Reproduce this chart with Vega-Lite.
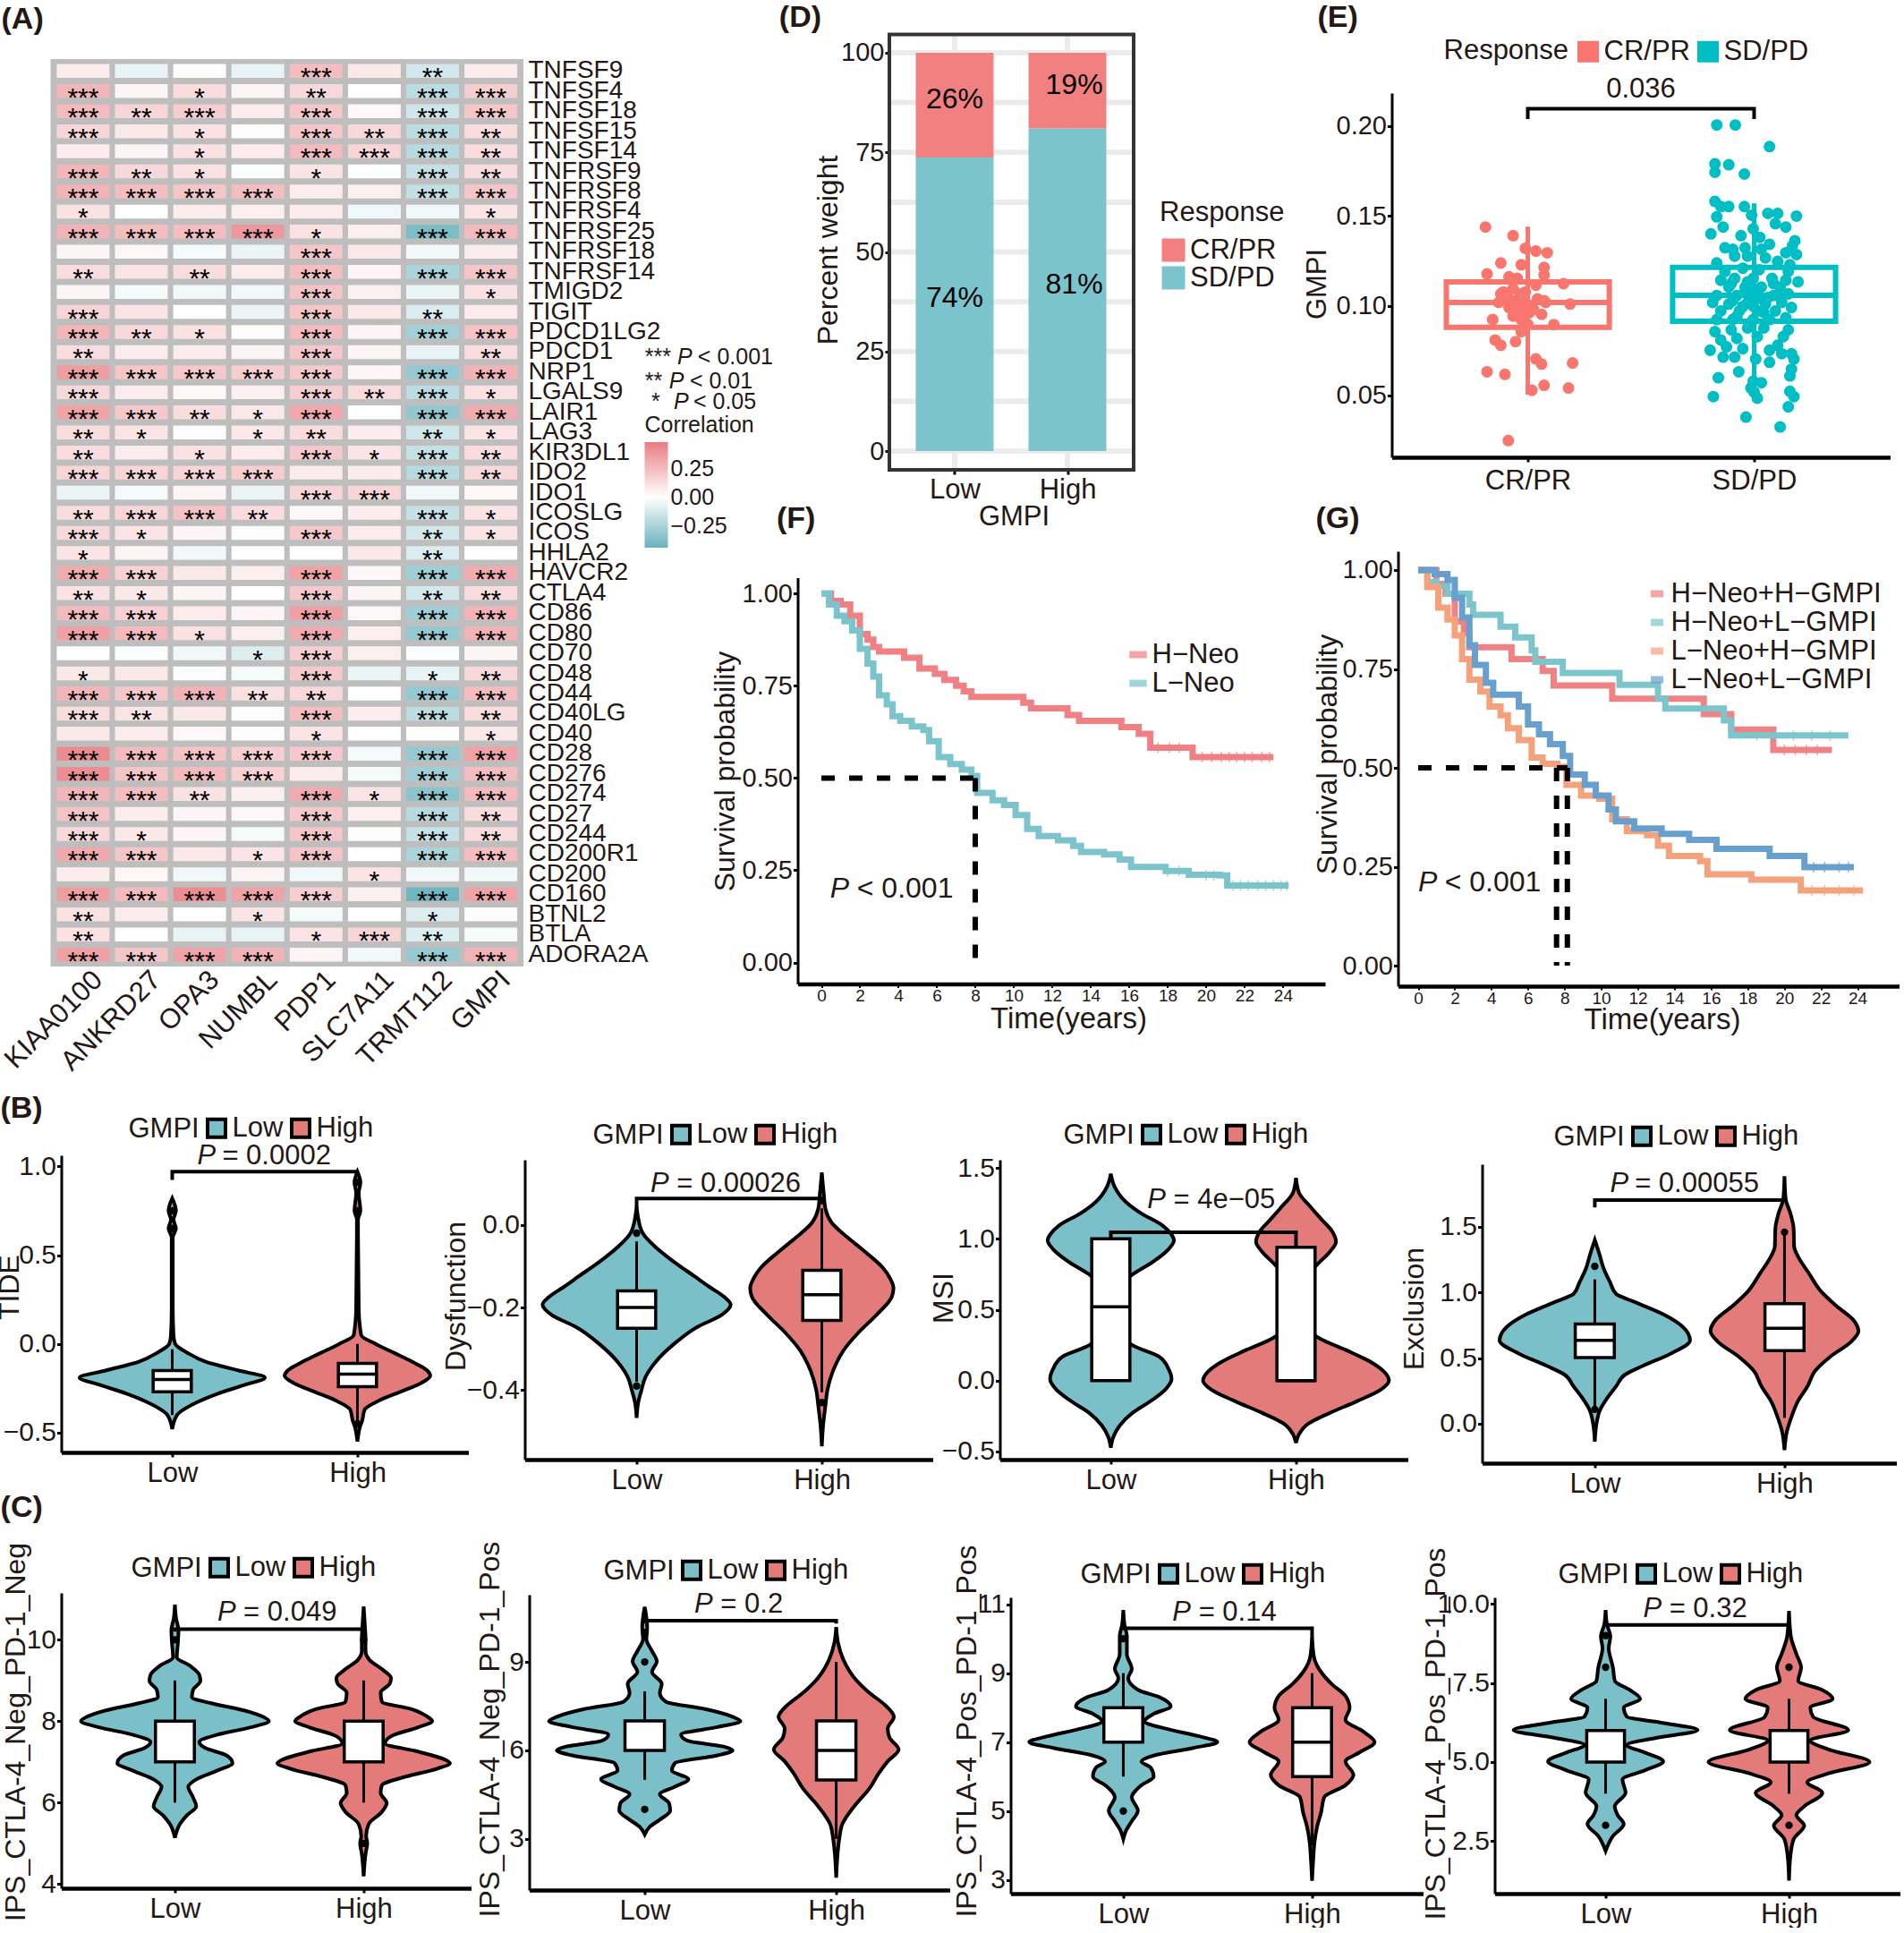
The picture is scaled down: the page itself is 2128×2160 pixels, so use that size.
{
"$schema":"https://vega.github.io/schema/vega-lite/v6.json",
"background":"white",
"padding":{"left":-5.5,"top":2,"right":0,"bottom":0},
"config":{
 "font":"Liberation Sans",
 "view":{"stroke":null},
 "axis":{"grid":false,"domainColor":"black","tickColor":"black","tickSize":5,"tickWidth":3,"labelColor":"#231815","titleColor":"#231815","labelFontSize":30,"titleFontSize":32,"titleFontWeight":"normal","labelPadding":1,"titleBaseline":"middle","labelOverlap":false,"labelFlush":false,"titleAnchor":null},
 "axisX":{"domainWidth":4.5,"labelPadding":3},
 "axisY":{"domainWidth":3},
 "legend":{"labelColor":"#231815","titleColor":"#231815","titleFontSize":31,"labelFontSize":31,"titleFontWeight":"normal","padding":0},
 "text":{"color":"#231815"}
},
"datasets":{
"a":[
{"g":"TNFSF9","c":"KIAA0100","r":0.07,"s":""},{"g":"TNFSF9","c":"ANKRD27","r":-0.07,"s":""},{"g":"TNFSF9","c":"OPA3","r":0.01,"s":""},{"g":"TNFSF9","c":"NUMBL","r":-0.07,"s":""},{"g":"TNFSF9","c":"PDP1","r":0.24,"s":"***"},{"g":"TNFSF9","c":"SLC7A11","r":0.08,"s":""},{"g":"TNFSF9","c":"TRMT112","r":-0.13,"s":"**"},{"g":"TNFSF9","c":"GMPI","r":0.07,"s":""},
{"g":"TNFSF4","c":"KIAA0100","r":0.27,"s":"***"},{"g":"TNFSF4","c":"ANKRD27","r":0.04,"s":""},{"g":"TNFSF4","c":"OPA3","r":0.13,"s":"*"},{"g":"TNFSF4","c":"NUMBL","r":0.04,"s":""},{"g":"TNFSF4","c":"PDP1","r":0.14,"s":"**"},{"g":"TNFSF4","c":"SLC7A11","r":0,"s":""},{"g":"TNFSF4","c":"TRMT112","r":-0.2,"s":"***"},{"g":"TNFSF4","c":"GMPI","r":0.18,"s":"***"},
{"g":"TNFSF18","c":"KIAA0100","r":0.25,"s":"***"},{"g":"TNFSF18","c":"ANKRD27","r":0.15,"s":"**"},{"g":"TNFSF18","c":"OPA3","r":0.18,"s":"***"},{"g":"TNFSF18","c":"NUMBL","r":0.07,"s":""},{"g":"TNFSF18","c":"PDP1","r":0.21,"s":"***"},{"g":"TNFSF18","c":"SLC7A11","r":0.03,"s":""},{"g":"TNFSF18","c":"TRMT112","r":-0.14,"s":"***"},{"g":"TNFSF18","c":"GMPI","r":0.21,"s":"***"},
{"g":"TNFSF15","c":"KIAA0100","r":0.15,"s":"***"},{"g":"TNFSF15","c":"ANKRD27","r":0.08,"s":""},{"g":"TNFSF15","c":"OPA3","r":0.11,"s":"*"},{"g":"TNFSF15","c":"NUMBL","r":0.01,"s":""},{"g":"TNFSF15","c":"PDP1","r":0.21,"s":"***"},{"g":"TNFSF15","c":"SLC7A11","r":0.14,"s":"**"},{"g":"TNFSF15","c":"TRMT112","r":-0.2,"s":"***"},{"g":"TNFSF15","c":"GMPI","r":0.13,"s":"**"},
{"g":"TNFSF14","c":"KIAA0100","r":0.07,"s":""},{"g":"TNFSF14","c":"ANKRD27","r":0.04,"s":""},{"g":"TNFSF14","c":"OPA3","r":0.11,"s":"*"},{"g":"TNFSF14","c":"NUMBL","r":0.07,"s":""},{"g":"TNFSF14","c":"PDP1","r":0.25,"s":"***"},{"g":"TNFSF14","c":"SLC7A11","r":0.15,"s":"***"},{"g":"TNFSF14","c":"TRMT112","r":-0.21,"s":"***"},{"g":"TNFSF14","c":"GMPI","r":0.13,"s":"**"},
{"g":"TNFRSF9","c":"KIAA0100","r":0.27,"s":"***"},{"g":"TNFRSF9","c":"ANKRD27","r":0.14,"s":"**"},{"g":"TNFRSF9","c":"OPA3","r":0.11,"s":"*"},{"g":"TNFRSF9","c":"NUMBL","r":-0.01,"s":""},{"g":"TNFRSF9","c":"PDP1","r":0.1,"s":"*"},{"g":"TNFRSF9","c":"SLC7A11","r":0,"s":""},{"g":"TNFRSF9","c":"TRMT112","r":-0.17,"s":"***"},{"g":"TNFRSF9","c":"GMPI","r":0.13,"s":"**"},
{"g":"TNFRSF8","c":"KIAA0100","r":0.28,"s":"***"},{"g":"TNFRSF8","c":"ANKRD27","r":0.24,"s":"***"},{"g":"TNFRSF8","c":"OPA3","r":0.21,"s":"***"},{"g":"TNFRSF8","c":"NUMBL","r":0.24,"s":"***"},{"g":"TNFRSF8","c":"PDP1","r":0.07,"s":""},{"g":"TNFRSF8","c":"SLC7A11","r":0.06,"s":""},{"g":"TNFRSF8","c":"TRMT112","r":-0.18,"s":"***"},{"g":"TNFRSF8","c":"GMPI","r":0.21,"s":"***"},
{"g":"TNFRSF4","c":"KIAA0100","r":0.11,"s":"*"},{"g":"TNFRSF4","c":"ANKRD27","r":0,"s":""},{"g":"TNFRSF4","c":"OPA3","r":0.07,"s":""},{"g":"TNFRSF4","c":"NUMBL","r":0.06,"s":""},{"g":"TNFRSF4","c":"PDP1","r":0.07,"s":""},{"g":"TNFRSF4","c":"SLC7A11","r":-0.04,"s":""},{"g":"TNFRSF4","c":"TRMT112","r":-0.04,"s":""},{"g":"TNFRSF4","c":"GMPI","r":0.1,"s":"*"},
{"g":"TNFRSF25","c":"KIAA0100","r":0.28,"s":"***"},{"g":"TNFRSF25","c":"ANKRD27","r":0.24,"s":"***"},{"g":"TNFRSF25","c":"OPA3","r":0.24,"s":"***"},{"g":"TNFRSF25","c":"NUMBL","r":0.38,"s":"***"},{"g":"TNFRSF25","c":"PDP1","r":0.11,"s":"*"},{"g":"TNFRSF25","c":"SLC7A11","r":0.06,"s":""},{"g":"TNFRSF25","c":"TRMT112","r":-0.38,"s":"***"},{"g":"TNFRSF25","c":"GMPI","r":0.25,"s":"***"},
{"g":"TNFRSF18","c":"KIAA0100","r":0.04,"s":""},{"g":"TNFRSF18","c":"ANKRD27","r":0.03,"s":""},{"g":"TNFRSF18","c":"OPA3","r":-0.03,"s":""},{"g":"TNFRSF18","c":"NUMBL","r":-0.06,"s":""},{"g":"TNFRSF18","c":"PDP1","r":0.21,"s":"***"},{"g":"TNFRSF18","c":"SLC7A11","r":0.08,"s":""},{"g":"TNFRSF18","c":"TRMT112","r":-0.04,"s":""},{"g":"TNFRSF18","c":"GMPI","r":0.07,"s":""},
{"g":"TNFRSF14","c":"KIAA0100","r":0.13,"s":"**"},{"g":"TNFRSF14","c":"ANKRD27","r":0.1,"s":""},{"g":"TNFRSF14","c":"OPA3","r":0.13,"s":"**"},{"g":"TNFRSF14","c":"NUMBL","r":0.07,"s":""},{"g":"TNFRSF14","c":"PDP1","r":0.24,"s":"***"},{"g":"TNFRSF14","c":"SLC7A11","r":0.04,"s":""},{"g":"TNFRSF14","c":"TRMT112","r":-0.25,"s":"***"},{"g":"TNFRSF14","c":"GMPI","r":0.21,"s":"***"},
{"g":"TMIGD2","c":"KIAA0100","r":0.04,"s":""},{"g":"TMIGD2","c":"ANKRD27","r":-0.03,"s":""},{"g":"TMIGD2","c":"OPA3","r":-0.04,"s":""},{"g":"TMIGD2","c":"NUMBL","r":-0.04,"s":""},{"g":"TMIGD2","c":"PDP1","r":0.22,"s":"***"},{"g":"TMIGD2","c":"SLC7A11","r":0.06,"s":""},{"g":"TMIGD2","c":"TRMT112","r":-0.06,"s":""},{"g":"TMIGD2","c":"GMPI","r":0.11,"s":"*"},
{"g":"TIGIT","c":"KIAA0100","r":0.15,"s":"***"},{"g":"TIGIT","c":"ANKRD27","r":0.1,"s":""},{"g":"TIGIT","c":"OPA3","r":0,"s":""},{"g":"TIGIT","c":"NUMBL","r":-0.06,"s":""},{"g":"TIGIT","c":"PDP1","r":0.21,"s":"***"},{"g":"TIGIT","c":"SLC7A11","r":0.08,"s":""},{"g":"TIGIT","c":"TRMT112","r":-0.11,"s":"**"},{"g":"TIGIT","c":"GMPI","r":0.07,"s":""},
{"g":"PDCD1LG2","c":"KIAA0100","r":0.27,"s":"***"},{"g":"PDCD1LG2","c":"ANKRD27","r":0.14,"s":"**"},{"g":"PDCD1LG2","c":"OPA3","r":0.11,"s":"*"},{"g":"PDCD1LG2","c":"NUMBL","r":0.01,"s":""},{"g":"PDCD1LG2","c":"PDP1","r":0.25,"s":"***"},{"g":"PDCD1LG2","c":"SLC7A11","r":0.04,"s":""},{"g":"PDCD1LG2","c":"TRMT112","r":-0.27,"s":"***"},{"g":"PDCD1LG2","c":"GMPI","r":0.22,"s":"***"},
{"g":"PDCD1","c":"KIAA0100","r":0.13,"s":"**"},{"g":"PDCD1","c":"ANKRD27","r":0.07,"s":""},{"g":"PDCD1","c":"OPA3","r":0.07,"s":""},{"g":"PDCD1","c":"NUMBL","r":0.04,"s":""},{"g":"PDCD1","c":"PDP1","r":0.21,"s":"***"},{"g":"PDCD1","c":"SLC7A11","r":0.04,"s":""},{"g":"PDCD1","c":"TRMT112","r":-0.07,"s":""},{"g":"PDCD1","c":"GMPI","r":0.13,"s":"**"},
{"g":"NRP1","c":"KIAA0100","r":0.36,"s":"***"},{"g":"NRP1","c":"ANKRD27","r":0.21,"s":"***"},{"g":"NRP1","c":"OPA3","r":0.2,"s":"***"},{"g":"NRP1","c":"NUMBL","r":0.18,"s":"***"},{"g":"NRP1","c":"PDP1","r":0.2,"s":"***"},{"g":"NRP1","c":"SLC7A11","r":0.03,"s":""},{"g":"NRP1","c":"TRMT112","r":-0.31,"s":"***"},{"g":"NRP1","c":"GMPI","r":0.28,"s":"***"},
{"g":"LGALS9","c":"KIAA0100","r":0.14,"s":"***"},{"g":"LGALS9","c":"ANKRD27","r":0.07,"s":""},{"g":"LGALS9","c":"OPA3","r":0.03,"s":""},{"g":"LGALS9","c":"NUMBL","r":0.06,"s":""},{"g":"LGALS9","c":"PDP1","r":0.18,"s":"***"},{"g":"LGALS9","c":"SLC7A11","r":0.13,"s":"**"},{"g":"LGALS9","c":"TRMT112","r":-0.2,"s":"***"},{"g":"LGALS9","c":"GMPI","r":0.11,"s":"*"},
{"g":"LAIR1","c":"KIAA0100","r":0.34,"s":"***"},{"g":"LAIR1","c":"ANKRD27","r":0.2,"s":"***"},{"g":"LAIR1","c":"OPA3","r":0.13,"s":"**"},{"g":"LAIR1","c":"NUMBL","r":0.08,"s":"*"},{"g":"LAIR1","c":"PDP1","r":0.32,"s":"***"},{"g":"LAIR1","c":"SLC7A11","r":0,"s":""},{"g":"LAIR1","c":"TRMT112","r":-0.32,"s":"***"},{"g":"LAIR1","c":"GMPI","r":0.31,"s":"***"},
{"g":"LAG3","c":"KIAA0100","r":0.13,"s":"**"},{"g":"LAG3","c":"ANKRD27","r":0.1,"s":"*"},{"g":"LAG3","c":"OPA3","r":0.01,"s":""},{"g":"LAG3","c":"NUMBL","r":0.08,"s":"*"},{"g":"LAG3","c":"PDP1","r":0.13,"s":"**"},{"g":"LAG3","c":"SLC7A11","r":0.07,"s":""},{"g":"LAG3","c":"TRMT112","r":-0.14,"s":"**"},{"g":"LAG3","c":"GMPI","r":0.1,"s":"*"},
{"g":"KIR3DL1","c":"KIAA0100","r":0.13,"s":"**"},{"g":"KIR3DL1","c":"ANKRD27","r":0.07,"s":""},{"g":"KIR3DL1","c":"OPA3","r":0.11,"s":"*"},{"g":"KIR3DL1","c":"NUMBL","r":0.07,"s":""},{"g":"KIR3DL1","c":"PDP1","r":0.2,"s":"***"},{"g":"KIR3DL1","c":"SLC7A11","r":0.1,"s":"*"},{"g":"KIR3DL1","c":"TRMT112","r":-0.17,"s":"***"},{"g":"KIR3DL1","c":"GMPI","r":0.13,"s":"**"},
{"g":"IDO2","c":"KIAA0100","r":0.15,"s":"***"},{"g":"IDO2","c":"ANKRD27","r":0.15,"s":"***"},{"g":"IDO2","c":"OPA3","r":0.15,"s":"***"},{"g":"IDO2","c":"NUMBL","r":0.18,"s":"***"},{"g":"IDO2","c":"PDP1","r":0.07,"s":""},{"g":"IDO2","c":"SLC7A11","r":0.07,"s":""},{"g":"IDO2","c":"TRMT112","r":-0.21,"s":"***"},{"g":"IDO2","c":"GMPI","r":0.14,"s":"**"},
{"g":"IDO1","c":"KIAA0100","r":-0.06,"s":""},{"g":"IDO1","c":"ANKRD27","r":-0.03,"s":""},{"g":"IDO1","c":"OPA3","r":0.04,"s":""},{"g":"IDO1","c":"NUMBL","r":-0.06,"s":""},{"g":"IDO1","c":"PDP1","r":0.15,"s":"***"},{"g":"IDO1","c":"SLC7A11","r":0.15,"s":"***"},{"g":"IDO1","c":"TRMT112","r":-0.04,"s":""},{"g":"IDO1","c":"GMPI","r":0.03,"s":""},
{"g":"ICOSLG","c":"KIAA0100","r":0.13,"s":"**"},{"g":"ICOSLG","c":"ANKRD27","r":0.15,"s":"***"},{"g":"ICOSLG","c":"OPA3","r":0.22,"s":"***"},{"g":"ICOSLG","c":"NUMBL","r":0.13,"s":"**"},{"g":"ICOSLG","c":"PDP1","r":0.03,"s":""},{"g":"ICOSLG","c":"SLC7A11","r":0.07,"s":""},{"g":"ICOSLG","c":"TRMT112","r":-0.17,"s":"***"},{"g":"ICOSLG","c":"GMPI","r":0.1,"s":"*"},
{"g":"ICOS","c":"KIAA0100","r":0.14,"s":"***"},{"g":"ICOS","c":"ANKRD27","r":0.1,"s":"*"},{"g":"ICOS","c":"OPA3","r":0.04,"s":""},{"g":"ICOS","c":"NUMBL","r":-0.01,"s":""},{"g":"ICOS","c":"PDP1","r":0.2,"s":"***"},{"g":"ICOS","c":"SLC7A11","r":0.07,"s":""},{"g":"ICOS","c":"TRMT112","r":-0.13,"s":"**"},{"g":"ICOS","c":"GMPI","r":0.1,"s":"*"},
{"g":"HHLA2","c":"KIAA0100","r":0.1,"s":"*"},{"g":"HHLA2","c":"ANKRD27","r":0.04,"s":""},{"g":"HHLA2","c":"OPA3","r":-0.04,"s":""},{"g":"HHLA2","c":"NUMBL","r":0,"s":""},{"g":"HHLA2","c":"PDP1","r":0,"s":""},{"g":"HHLA2","c":"SLC7A11","r":0.08,"s":""},{"g":"HHLA2","c":"TRMT112","r":-0.11,"s":"**"},{"g":"HHLA2","c":"GMPI","r":0,"s":""},
{"g":"HAVCR2","c":"KIAA0100","r":0.31,"s":"***"},{"g":"HAVCR2","c":"ANKRD27","r":0.17,"s":"***"},{"g":"HAVCR2","c":"OPA3","r":0.08,"s":""},{"g":"HAVCR2","c":"NUMBL","r":0.06,"s":""},{"g":"HAVCR2","c":"PDP1","r":0.34,"s":"***"},{"g":"HAVCR2","c":"SLC7A11","r":0.03,"s":""},{"g":"HAVCR2","c":"TRMT112","r":-0.28,"s":"***"},{"g":"HAVCR2","c":"GMPI","r":0.31,"s":"***"},
{"g":"CTLA4","c":"KIAA0100","r":0.11,"s":"**"},{"g":"CTLA4","c":"ANKRD27","r":0.08,"s":"*"},{"g":"CTLA4","c":"OPA3","r":0.04,"s":""},{"g":"CTLA4","c":"NUMBL","r":0,"s":""},{"g":"CTLA4","c":"PDP1","r":0.2,"s":"***"},{"g":"CTLA4","c":"SLC7A11","r":0.04,"s":""},{"g":"CTLA4","c":"TRMT112","r":-0.13,"s":"**"},{"g":"CTLA4","c":"GMPI","r":0.13,"s":"**"},
{"g":"CD86","c":"KIAA0100","r":0.25,"s":"***"},{"g":"CD86","c":"ANKRD27","r":0.17,"s":"***"},{"g":"CD86","c":"OPA3","r":0.07,"s":""},{"g":"CD86","c":"NUMBL","r":0.04,"s":""},{"g":"CD86","c":"PDP1","r":0.35,"s":"***"},{"g":"CD86","c":"SLC7A11","r":0.03,"s":""},{"g":"CD86","c":"TRMT112","r":-0.28,"s":"***"},{"g":"CD86","c":"GMPI","r":0.28,"s":"***"},
{"g":"CD80","c":"KIAA0100","r":0.35,"s":"***"},{"g":"CD80","c":"ANKRD27","r":0.25,"s":"***"},{"g":"CD80","c":"OPA3","r":0.11,"s":"*"},{"g":"CD80","c":"NUMBL","r":0.06,"s":""},{"g":"CD80","c":"PDP1","r":0.31,"s":"***"},{"g":"CD80","c":"SLC7A11","r":0.06,"s":""},{"g":"CD80","c":"TRMT112","r":-0.31,"s":"***"},{"g":"CD80","c":"GMPI","r":0.28,"s":"***"},
{"g":"CD70","c":"KIAA0100","r":0,"s":""},{"g":"CD70","c":"ANKRD27","r":-0.01,"s":""},{"g":"CD70","c":"OPA3","r":-0.04,"s":""},{"g":"CD70","c":"NUMBL","r":-0.1,"s":"*"},{"g":"CD70","c":"PDP1","r":0.18,"s":"***"},{"g":"CD70","c":"SLC7A11","r":0.06,"s":""},{"g":"CD70","c":"TRMT112","r":-0.01,"s":""},{"g":"CD70","c":"GMPI","r":0.04,"s":""},
{"g":"CD48","c":"KIAA0100","r":0.08,"s":"*"},{"g":"CD48","c":"ANKRD27","r":0.08,"s":""},{"g":"CD48","c":"OPA3","r":-0.01,"s":""},{"g":"CD48","c":"NUMBL","r":-0.03,"s":""},{"g":"CD48","c":"PDP1","r":0.2,"s":"***"},{"g":"CD48","c":"SLC7A11","r":-0.06,"s":""},{"g":"CD48","c":"TRMT112","r":-0.07,"s":"*"},{"g":"CD48","c":"GMPI","r":0.14,"s":"**"},
{"g":"CD44","c":"KIAA0100","r":0.27,"s":"***"},{"g":"CD44","c":"ANKRD27","r":0.2,"s":"***"},{"g":"CD44","c":"OPA3","r":0.28,"s":"***"},{"g":"CD44","c":"NUMBL","r":0.11,"s":"**"},{"g":"CD44","c":"PDP1","r":0.14,"s":"**"},{"g":"CD44","c":"SLC7A11","r":0,"s":""},{"g":"CD44","c":"TRMT112","r":-0.31,"s":"***"},{"g":"CD44","c":"GMPI","r":0.24,"s":"***"},
{"g":"CD40LG","c":"KIAA0100","r":0.13,"s":"***"},{"g":"CD40LG","c":"ANKRD27","r":0.1,"s":"**"},{"g":"CD40LG","c":"OPA3","r":0.08,"s":""},{"g":"CD40LG","c":"NUMBL","r":-0.01,"s":""},{"g":"CD40LG","c":"PDP1","r":0.24,"s":"***"},{"g":"CD40LG","c":"SLC7A11","r":0.07,"s":""},{"g":"CD40LG","c":"TRMT112","r":-0.2,"s":"***"},{"g":"CD40LG","c":"GMPI","r":0.13,"s":"**"},
{"g":"CD40","c":"KIAA0100","r":0.08,"s":""},{"g":"CD40","c":"ANKRD27","r":0.07,"s":""},{"g":"CD40","c":"OPA3","r":0.03,"s":""},{"g":"CD40","c":"NUMBL","r":0.01,"s":""},{"g":"CD40","c":"PDP1","r":0.1,"s":"*"},{"g":"CD40","c":"SLC7A11","r":0,"s":""},{"g":"CD40","c":"TRMT112","r":0.01,"s":""},{"g":"CD40","c":"GMPI","r":0.08,"s":"*"},
{"g":"CD28","c":"KIAA0100","r":0.43,"s":"***"},{"g":"CD28","c":"ANKRD27","r":0.25,"s":"***"},{"g":"CD28","c":"OPA3","r":0.22,"s":"***"},{"g":"CD28","c":"NUMBL","r":0.18,"s":"***"},{"g":"CD28","c":"PDP1","r":0.2,"s":"***"},{"g":"CD28","c":"SLC7A11","r":-0.03,"s":""},{"g":"CD28","c":"TRMT112","r":-0.31,"s":"***"},{"g":"CD28","c":"GMPI","r":0.34,"s":"***"},
{"g":"CD276","c":"KIAA0100","r":0.42,"s":"***"},{"g":"CD276","c":"ANKRD27","r":0.21,"s":"***"},{"g":"CD276","c":"OPA3","r":0.25,"s":"***"},{"g":"CD276","c":"NUMBL","r":0.17,"s":"***"},{"g":"CD276","c":"PDP1","r":0.07,"s":""},{"g":"CD276","c":"SLC7A11","r":-0.03,"s":""},{"g":"CD276","c":"TRMT112","r":-0.28,"s":"***"},{"g":"CD276","c":"GMPI","r":0.24,"s":"***"},
{"g":"CD274","c":"KIAA0100","r":0.27,"s":"***"},{"g":"CD274","c":"ANKRD27","r":0.24,"s":"***"},{"g":"CD274","c":"OPA3","r":0.11,"s":"**"},{"g":"CD274","c":"NUMBL","r":0.06,"s":""},{"g":"CD274","c":"PDP1","r":0.31,"s":"***"},{"g":"CD274","c":"SLC7A11","r":0.1,"s":"*"},{"g":"CD274","c":"TRMT112","r":-0.34,"s":"***"},{"g":"CD274","c":"GMPI","r":0.25,"s":"***"},
{"g":"CD27","c":"KIAA0100","r":0.22,"s":"***"},{"g":"CD27","c":"ANKRD27","r":0.07,"s":""},{"g":"CD27","c":"OPA3","r":0.04,"s":""},{"g":"CD27","c":"NUMBL","r":0.03,"s":""},{"g":"CD27","c":"PDP1","r":0.2,"s":"***"},{"g":"CD27","c":"SLC7A11","r":0.06,"s":""},{"g":"CD27","c":"TRMT112","r":-0.21,"s":"***"},{"g":"CD27","c":"GMPI","r":0.13,"s":"**"},
{"g":"CD244","c":"KIAA0100","r":0.14,"s":"***"},{"g":"CD244","c":"ANKRD27","r":0.08,"s":"*"},{"g":"CD244","c":"OPA3","r":0.04,"s":""},{"g":"CD244","c":"NUMBL","r":-0.03,"s":""},{"g":"CD244","c":"PDP1","r":0.21,"s":"***"},{"g":"CD244","c":"SLC7A11","r":0.01,"s":""},{"g":"CD244","c":"TRMT112","r":-0.17,"s":"***"},{"g":"CD244","c":"GMPI","r":0.13,"s":"**"},
{"g":"CD200R1","c":"KIAA0100","r":0.32,"s":"***"},{"g":"CD200R1","c":"ANKRD27","r":0.21,"s":"***"},{"g":"CD200R1","c":"OPA3","r":0.08,"s":""},{"g":"CD200R1","c":"NUMBL","r":0.1,"s":"*"},{"g":"CD200R1","c":"PDP1","r":0.22,"s":"***"},{"g":"CD200R1","c":"SLC7A11","r":0,"s":""},{"g":"CD200R1","c":"TRMT112","r":-0.25,"s":"***"},{"g":"CD200R1","c":"GMPI","r":0.24,"s":"***"},
{"g":"CD200","c":"KIAA0100","r":0.07,"s":""},{"g":"CD200","c":"ANKRD27","r":0.03,"s":""},{"g":"CD200","c":"OPA3","r":-0.04,"s":""},{"g":"CD200","c":"NUMBL","r":0.04,"s":""},{"g":"CD200","c":"PDP1","r":-0.04,"s":""},{"g":"CD200","c":"SLC7A11","r":0.1,"s":"*"},{"g":"CD200","c":"TRMT112","r":-0.04,"s":""},{"g":"CD200","c":"GMPI","r":-0.04,"s":""},
{"g":"CD160","c":"KIAA0100","r":0.36,"s":"***"},{"g":"CD160","c":"ANKRD27","r":0.25,"s":"***"},{"g":"CD160","c":"OPA3","r":0.42,"s":"***"},{"g":"CD160","c":"NUMBL","r":0.34,"s":"***"},{"g":"CD160","c":"PDP1","r":0.18,"s":"***"},{"g":"CD160","c":"SLC7A11","r":0.06,"s":""},{"g":"CD160","c":"TRMT112","r":-0.42,"s":"***"},{"g":"CD160","c":"GMPI","r":0.34,"s":"***"},
{"g":"BTNL2","c":"KIAA0100","r":0.11,"s":"**"},{"g":"BTNL2","c":"ANKRD27","r":0.07,"s":""},{"g":"BTNL2","c":"OPA3","r":0,"s":""},{"g":"BTNL2","c":"NUMBL","r":0.1,"s":"*"},{"g":"BTNL2","c":"PDP1","r":-0.03,"s":""},{"g":"BTNL2","c":"SLC7A11","r":0,"s":""},{"g":"BTNL2","c":"TRMT112","r":-0.1,"s":"*"},{"g":"BTNL2","c":"GMPI","r":0.01,"s":""},
{"g":"BTLA","c":"KIAA0100","r":0.11,"s":"**"},{"g":"BTLA","c":"ANKRD27","r":0,"s":""},{"g":"BTLA","c":"OPA3","r":-0.07,"s":""},{"g":"BTLA","c":"NUMBL","r":-0.07,"s":""},{"g":"BTLA","c":"PDP1","r":0.1,"s":"*"},{"g":"BTLA","c":"SLC7A11","r":0.15,"s":"***"},{"g":"BTLA","c":"TRMT112","r":-0.1,"s":"**"},{"g":"BTLA","c":"GMPI","r":-0.03,"s":""},
{"g":"ADORA2A","c":"KIAA0100","r":0.35,"s":"***"},{"g":"ADORA2A","c":"ANKRD27","r":0.21,"s":"***"},{"g":"ADORA2A","c":"OPA3","r":0.34,"s":"***"},{"g":"ADORA2A","c":"NUMBL","r":0.28,"s":"***"},{"g":"ADORA2A","c":"PDP1","r":0.04,"s":""},{"g":"ADORA2A","c":"SLC7A11","r":-0.04,"s":""},{"g":"ADORA2A","c":"TRMT112","r":-0.31,"s":"***"},{"g":"ADORA2A","c":"GMPI","r":0.28,"s":"***"}
],
"dbars":[
{"g":"Low","r":"CR/PR","lo":0.655,"hi":1.345,"y0":73.7,"y1":100},{"g":"Low","r":"SD/PD","lo":0.655,"hi":1.345,"y0":0,"y1":73.7},
{"g":"High","r":"CR/PR","lo":1.655,"hi":2.345,"y0":81,"y1":100},{"g":"High","r":"SD/PD","lo":1.655,"hi":2.345,"y0":0,"y1":81}
],
"egrid":[{"v":0},{"v":12.5},{"v":25},{"v":37.5},{"v":50},{"v":62.5},{"v":75},{"v":87.5},{"v":100}],
"edots":[
{"r":"CR/PR","j":0.813,"v":0.1438},{"r":"CR/PR","j":0.935,"v":0.139},{"r":"CR/PR","j":0.989,"v":0.132},{"r":"CR/PR","j":1.036,"v":0.1304},{"r":"CR/PR","j":1.086,"v":0.1295},{"r":"CR/PR","j":0.881,"v":0.1238},{"r":"CR/PR","j":0.971,"v":0.1228},{"r":"CR/PR","j":1.072,"v":0.1213},{"r":"CR/PR","j":1.072,"v":0.1171},{"r":"CR/PR","j":0.82,"v":0.1177},{"r":"CR/PR","j":0.917,"v":0.1161},{"r":"CR/PR","j":0.953,"v":0.1152},{"r":"CR/PR","j":1.158,"v":0.1123},{"r":"CR/PR","j":1.036,"v":0.1114},{"r":"CR/PR","j":0.935,"v":0.1095},{"r":"CR/PR","j":0.881,"v":0.1066},{"r":"CR/PR","j":0.989,"v":0.1076},{"r":"CR/PR","j":0.964,"v":0.1047},{"r":"CR/PR","j":0.871,"v":0.1018},{"r":"CR/PR","j":1.072,"v":0.1028},{"r":"CR/PR","j":1.187,"v":0.1009},{"r":"CR/PR","j":0.917,"v":0.099},{"r":"CR/PR","j":0.989,"v":0.1009},{"r":"CR/PR","j":1.025,"v":0.098},{"r":"CR/PR","j":1.061,"v":0.0952},{"r":"CR/PR","j":0.935,"v":0.0942},{"r":"CR/PR","j":0.845,"v":0.0923},{"r":"CR/PR","j":0.971,"v":0.0923},{"r":"CR/PR","j":1,"v":0.0895},{"r":"CR/PR","j":1.115,"v":0.0895},{"r":"CR/PR","j":0.971,"v":0.0856},{"r":"CR/PR","j":0.856,"v":0.0809},{"r":"CR/PR","j":0.881,"v":0.078},{"r":"CR/PR","j":0.946,"v":0.08},{"r":"CR/PR","j":1.036,"v":0.0704},{"r":"CR/PR","j":1.061,"v":0.0675},{"r":"CR/PR","j":1.198,"v":0.0681},{"r":"CR/PR","j":0.82,"v":0.0632},{"r":"CR/PR","j":0.899,"v":0.0618},{"r":"CR/PR","j":1.072,"v":0.0557},{"r":"CR/PR","j":1.018,"v":0.0529},{"r":"CR/PR","j":1.18,"v":0.0542},{"r":"CR/PR","j":0.914,"v":0.0249},{"r":"CR/PR","j":1.007,"v":0.0961},{"r":"CR/PR","j":0.971,"v":0.0971},{"r":"CR/PR","j":0.917,"v":0.1038},{"r":"CR/PR","j":0.971,"v":0.1066},{"r":"CR/PR","j":1.043,"v":0.1038},{"r":"CR/PR","j":0.892,"v":0.1076},{"r":"CR/PR","j":1.079,"v":0.1018},{"r":"CR/PR","j":0.953,"v":0.0999},
{"r":"SD/PD","j":1.835,"v":0.2006},{"r":"SD/PD","j":1.917,"v":0.2006},{"r":"SD/PD","j":2.068,"v":0.1886},{"r":"SD/PD","j":1.827,"v":0.179},{"r":"SD/PD","j":1.888,"v":0.1785},{"r":"SD/PD","j":1.827,"v":0.1743},{"r":"SD/PD","j":1.957,"v":0.1733},{"r":"SD/PD","j":1.827,"v":0.1581},{"r":"SD/PD","j":1.853,"v":0.1552},{"r":"SD/PD","j":1.888,"v":0.1552},{"r":"SD/PD","j":1.957,"v":0.1552},{"r":"SD/PD","j":1.835,"v":0.1495},{"r":"SD/PD","j":1.989,"v":0.1504},{"r":"SD/PD","j":2.061,"v":0.1514},{"r":"SD/PD","j":2.104,"v":0.1514},{"r":"SD/PD","j":2.187,"v":0.1499},{"r":"SD/PD","j":2.094,"v":0.1457},{"r":"SD/PD","j":2.14,"v":0.1438},{"r":"SD/PD","j":1.863,"v":0.1438},{"r":"SD/PD","j":1.996,"v":0.1428},{"r":"SD/PD","j":1.809,"v":0.14},{"r":"SD/PD","j":1.942,"v":0.139},{"r":"SD/PD","j":2.025,"v":0.1381},{"r":"SD/PD","j":2.18,"v":0.1362},{"r":"SD/PD","j":1.871,"v":0.1323},{"r":"SD/PD","j":1.906,"v":0.1314},{"r":"SD/PD","j":1.96,"v":0.1323},{"r":"SD/PD","j":2.032,"v":0.1314},{"r":"SD/PD","j":2.068,"v":0.1342},{"r":"SD/PD","j":2.169,"v":0.1333},{"r":"SD/PD","j":2.14,"v":0.1295},{"r":"SD/PD","j":2.187,"v":0.1285},{"r":"SD/PD","j":1.835,"v":0.1238},{"r":"SD/PD","j":1.914,"v":0.1276},{"r":"SD/PD","j":1.971,"v":0.1276},{"r":"SD/PD","j":2.05,"v":0.1266},{"r":"SD/PD","j":2.104,"v":0.1247},{"r":"SD/PD","j":2.158,"v":0.1228},{"r":"SD/PD","j":1.871,"v":0.119},{"r":"SD/PD","j":1.95,"v":0.1209},{"r":"SD/PD","j":2.022,"v":0.12},{"r":"SD/PD","j":2.151,"v":0.119},{"r":"SD/PD","j":2.194,"v":0.1133},{"r":"SD/PD","j":1.853,"v":0.1142},{"r":"SD/PD","j":1.914,"v":0.1152},{"r":"SD/PD","j":1.996,"v":0.1152},{"r":"SD/PD","j":2.079,"v":0.1152},{"r":"SD/PD","j":2.14,"v":0.1142},{"r":"SD/PD","j":1.888,"v":0.1104},{"r":"SD/PD","j":1.96,"v":0.1104},{"r":"SD/PD","j":2.032,"v":0.1104},{"r":"SD/PD","j":2.115,"v":0.1104},{"r":"SD/PD","j":1.835,"v":0.1057},{"r":"SD/PD","j":1.924,"v":0.1057},{"r":"SD/PD","j":1.996,"v":0.1057},{"r":"SD/PD","j":2.086,"v":0.1057},{"r":"SD/PD","j":2.151,"v":0.1066},{"r":"SD/PD","j":1.817,"v":0.1018},{"r":"SD/PD","j":1.888,"v":0.1009},{"r":"SD/PD","j":1.971,"v":0.1018},{"r":"SD/PD","j":2.05,"v":0.1009},{"r":"SD/PD","j":2.122,"v":0.1018},{"r":"SD/PD","j":1.853,"v":0.0971},{"r":"SD/PD","j":1.935,"v":0.0971},{"r":"SD/PD","j":2.014,"v":0.0971},{"r":"SD/PD","j":2.094,"v":0.0971},{"r":"SD/PD","j":2.165,"v":0.099},{"r":"SD/PD","j":1.835,"v":0.0923},{"r":"SD/PD","j":1.906,"v":0.0923},{"r":"SD/PD","j":1.996,"v":0.0923},{"r":"SD/PD","j":2.068,"v":0.0923},{"r":"SD/PD","j":2.14,"v":0.0933},{"r":"SD/PD","j":1.827,"v":0.0856},{"r":"SD/PD","j":1.899,"v":0.0866},{"r":"SD/PD","j":1.971,"v":0.0876},{"r":"SD/PD","j":2.043,"v":0.0876},{"r":"SD/PD","j":2.151,"v":0.0866},{"r":"SD/PD","j":1.853,"v":0.0809},{"r":"SD/PD","j":1.924,"v":0.0818},{"r":"SD/PD","j":2.014,"v":0.0828},{"r":"SD/PD","j":2.129,"v":0.0828},{"r":"SD/PD","j":1.878,"v":0.0771},{"r":"SD/PD","j":1.95,"v":0.0761},{"r":"SD/PD","j":1.806,"v":0.0752},{"r":"SD/PD","j":2.104,"v":0.078},{"r":"SD/PD","j":2.068,"v":0.0752},{"r":"SD/PD","j":2.122,"v":0.0733},{"r":"SD/PD","j":2.165,"v":0.0733},{"r":"SD/PD","j":1.863,"v":0.0714},{"r":"SD/PD","j":1.914,"v":0.0714},{"r":"SD/PD","j":2.007,"v":0.0704},{"r":"SD/PD","j":2.068,"v":0.0685},{"r":"SD/PD","j":2.176,"v":0.0704},{"r":"SD/PD","j":1.932,"v":0.0632},{"r":"SD/PD","j":2.165,"v":0.0647},{"r":"SD/PD","j":1.842,"v":0.0599},{"r":"SD/PD","j":2.158,"v":0.0609},{"r":"SD/PD","j":1.996,"v":0.058},{"r":"SD/PD","j":2.032,"v":0.0571},{"r":"SD/PD","j":1.986,"v":0.0542},{"r":"SD/PD","j":2,"v":0.0519},{"r":"SD/PD","j":1.82,"v":0.0494},{"r":"SD/PD","j":2.158,"v":0.0523},{"r":"SD/PD","j":2.176,"v":0.0494},{"r":"SD/PD","j":2.014,"v":0.0485},{"r":"SD/PD","j":2.151,"v":0.0437},{"r":"SD/PD","j":1.964,"v":0.038},{"r":"SD/PD","j":2.115,"v":0.0325},{"r":"SD/PD","j":1.96,"v":0.1076},{"r":"SD/PD","j":2.032,"v":0.1038},{"r":"SD/PD","j":1.906,"v":0.1028},{"r":"SD/PD","j":2.086,"v":0.1123},{"r":"SD/PD","j":1.996,"v":0.0999},{"r":"SD/PD","j":1.924,"v":0.0942},{"r":"SD/PD","j":2.043,"v":0.0961},{"r":"SD/PD","j":1.971,"v":0.1133},{"r":"SD/PD","j":1.95,"v":0.0995},{"r":"SD/PD","j":2,"v":0.1085},{"r":"SD/PD","j":1.9,"v":0.1125},{"r":"SD/PD","j":2.06,"v":0.1045}
],
"ebox":[{"r":"CR/PR","x":1,"xl":0.64,"xr":1.36,"q1":0.088,"med":0.1018,"q3":0.1133,"wl":0.0505,"wh":0.144},{"r":"SD/PD","x":2,"xl":1.64,"xr":2.36,"q1":0.0913,"med":0.1058,"q3":0.1213,"wl":0.0505,"wh":0.157}],
"fkm":[
{"g":"H−Neo","t":0,"s":1},{"g":"H−Neo","t":0.5,"s":0.98},{"g":"H−Neo","t":1,"s":0.97},{"g":"H−Neo","t":1.5,"s":0.94},{"g":"H−Neo","t":2,"s":0.89},{"g":"H−Neo","t":2.4,"s":0.875},{"g":"H−Neo","t":2.7,"s":0.855},{"g":"H−Neo","t":3,"s":0.843},{"g":"H−Neo","t":4.3,"s":0.826},{"g":"H−Neo","t":5.1,"s":0.797},{"g":"H−Neo","t":5.9,"s":0.782},{"g":"H−Neo","t":6.4,"s":0.766},{"g":"H−Neo","t":7,"s":0.75},{"g":"H−Neo","t":7.4,"s":0.735},{"g":"H−Neo","t":7.8,"s":0.72},{"g":"H−Neo","t":10.5,"s":0.704},{"g":"H−Neo","t":10.9,"s":0.689},{"g":"H−Neo","t":12.8,"s":0.671},{"g":"H−Neo","t":13.4,"s":0.655},{"g":"H−Neo","t":15.6,"s":0.638},{"g":"H−Neo","t":16.5,"s":0.62},{"g":"H−Neo","t":17.1,"s":0.582},{"g":"H−Neo","t":19.3,"s":0.557},{"g":"H−Neo","t":23.5,"s":0.557},
{"g":"L−Neo","t":0,"s":1},{"g":"L−Neo","t":0.4,"s":0.97},{"g":"L−Neo","t":0.8,"s":0.94},{"g":"L−Neo","t":1.2,"s":0.925},{"g":"L−Neo","t":1.6,"s":0.9},{"g":"L−Neo","t":2,"s":0.85},{"g":"L−Neo","t":2.4,"s":0.81},{"g":"L−Neo","t":2.7,"s":0.775},{"g":"L−Neo","t":3,"s":0.724},{"g":"L−Neo","t":3.4,"s":0.7},{"g":"L−Neo","t":3.7,"s":0.668},{"g":"L−Neo","t":4.1,"s":0.655},{"g":"L−Neo","t":4.7,"s":0.64},{"g":"L−Neo","t":5.3,"s":0.63},{"g":"L−Neo","t":5.6,"s":0.6},{"g":"L−Neo","t":6.1,"s":0.557},{"g":"L−Neo","t":6.7,"s":0.538},{"g":"L−Neo","t":7.3,"s":0.523},{"g":"L−Neo","t":7.8,"s":0.506},{"g":"L−Neo","t":8.1,"s":0.46},{"g":"L−Neo","t":8.9,"s":0.44},{"g":"L−Neo","t":9.5,"s":0.427},{"g":"L−Neo","t":10.1,"s":0.4},{"g":"L−Neo","t":10.7,"s":0.362},{"g":"L−Neo","t":11.3,"s":0.343},{"g":"L−Neo","t":12.3,"s":0.331},{"g":"L−Neo","t":13.1,"s":0.316},{"g":"L−Neo","t":13.5,"s":0.3},{"g":"L−Neo","t":14.7,"s":0.293},{"g":"L−Neo","t":15.5,"s":0.279},{"g":"L−Neo","t":16.1,"s":0.259},{"g":"L−Neo","t":17.9,"s":0.248},{"g":"L−Neo","t":19.1,"s":0.238},{"g":"L−Neo","t":20.7,"s":0.236},{"g":"L−Neo","t":21.1,"s":0.209},{"g":"L−Neo","t":24.3,"s":0.209}
],
"fcens":[
{"g":"H−Neo","t":17.5,"s":0.582},{"g":"H−Neo","t":18.1,"s":0.582},{"g":"H−Neo","t":18.6,"s":0.582},{"g":"H−Neo","t":19.8,"s":0.557},{"g":"H−Neo","t":20.3,"s":0.557},{"g":"H−Neo","t":20.8,"s":0.557},{"g":"H−Neo","t":21.2,"s":0.557},{"g":"H−Neo","t":21.6,"s":0.557},{"g":"H−Neo","t":22,"s":0.557},{"g":"H−Neo","t":22.4,"s":0.557},{"g":"H−Neo","t":22.9,"s":0.557},{"g":"H−Neo","t":23.3,"s":0.557},
{"g":"L−Neo","t":18,"s":0.248},{"g":"L−Neo","t":18.6,"s":0.248},{"g":"L−Neo","t":20,"s":0.236},{"g":"L−Neo","t":20.4,"s":0.236},{"g":"L−Neo","t":21.4,"s":0.209},{"g":"L−Neo","t":21.8,"s":0.209},{"g":"L−Neo","t":22.2,"s":0.209},{"g":"L−Neo","t":22.7,"s":0.209},{"g":"L−Neo","t":23.1,"s":0.209},{"g":"L−Neo","t":23.5,"s":0.209},{"g":"L−Neo","t":23.9,"s":0.209},{"g":"L−Neo","t":24.2,"s":0.209}
],
"gkm":[
{"g":"H−Neo+H−GMPI","t":0,"s":1},{"g":"H−Neo+H−GMPI","t":1,"s":0.965},{"g":"H−Neo+H−GMPI","t":1.5,"s":0.94},{"g":"H−Neo+H−GMPI","t":2,"s":0.87},{"g":"H−Neo+H−GMPI","t":2.5,"s":0.84},{"g":"H−Neo+H−GMPI","t":2.8,"s":0.805},{"g":"H−Neo+H−GMPI","t":5.1,"s":0.775},{"g":"H−Neo+H−GMPI","t":6.8,"s":0.745},{"g":"H−Neo+H−GMPI","t":7.4,"s":0.708},{"g":"H−Neo+H−GMPI","t":10.6,"s":0.675},{"g":"H−Neo+H−GMPI","t":15.6,"s":0.636},{"g":"H−Neo+H−GMPI","t":17.1,"s":0.597},{"g":"H−Neo+H−GMPI","t":19.4,"s":0.545},{"g":"H−Neo+H−GMPI","t":22.6,"s":0.545},
{"g":"H−Neo+L−GMPI","t":0,"s":1},{"g":"H−Neo+L−GMPI","t":0.5,"s":0.97},{"g":"H−Neo+L−GMPI","t":1,"s":0.96},{"g":"H−Neo+L−GMPI","t":1.6,"s":0.94},{"g":"H−Neo+L−GMPI","t":2.8,"s":0.913},{"g":"H−Neo+L−GMPI","t":3,"s":0.887},{"g":"H−Neo+L−GMPI","t":4.5,"s":0.857},{"g":"H−Neo+L−GMPI","t":5.3,"s":0.83},{"g":"H−Neo+L−GMPI","t":6.2,"s":0.797},{"g":"H−Neo+L−GMPI","t":6.4,"s":0.768},{"g":"H−Neo+L−GMPI","t":7.9,"s":0.74},{"g":"H−Neo+L−GMPI","t":11,"s":0.71},{"g":"H−Neo+L−GMPI","t":13.1,"s":0.675},{"g":"H−Neo+L−GMPI","t":13.5,"s":0.65},{"g":"H−Neo+L−GMPI","t":16.7,"s":0.62},{"g":"H−Neo+L−GMPI","t":17.1,"s":0.582},{"g":"H−Neo+L−GMPI","t":23.5,"s":0.582},
{"g":"L−Neo+H−GMPI","t":0,"s":1},{"g":"L−Neo+H−GMPI","t":0.5,"s":0.957},{"g":"L−Neo+H−GMPI","t":1.1,"s":0.905},{"g":"L−Neo+H−GMPI","t":1.6,"s":0.875},{"g":"L−Neo+H−GMPI","t":2,"s":0.835},{"g":"L−Neo+H−GMPI","t":2.4,"s":0.775},{"g":"L−Neo+H−GMPI","t":2.8,"s":0.723},{"g":"L−Neo+H−GMPI","t":3.4,"s":0.693},{"g":"L−Neo+H−GMPI","t":3.9,"s":0.655},{"g":"L−Neo+H−GMPI","t":4.5,"s":0.633},{"g":"L−Neo+H−GMPI","t":4.9,"s":0.6},{"g":"L−Neo+H−GMPI","t":5.5,"s":0.57},{"g":"L−Neo+H−GMPI","t":6.2,"s":0.526},{"g":"L−Neo+H−GMPI","t":6.8,"s":0.51},{"g":"L−Neo+H−GMPI","t":7.6,"s":0.503},{"g":"L−Neo+H−GMPI","t":8.1,"s":0.457},{"g":"L−Neo+H−GMPI","t":8.9,"s":0.43},{"g":"L−Neo+H−GMPI","t":9.9,"s":0.422},{"g":"L−Neo+H−GMPI","t":10.6,"s":0.37},{"g":"L−Neo+H−GMPI","t":11.4,"s":0.34},{"g":"L−Neo+H−GMPI","t":12.5,"s":0.33},{"g":"L−Neo+H−GMPI","t":13.1,"s":0.303},{"g":"L−Neo+H−GMPI","t":13.7,"s":0.277},{"g":"L−Neo+H−GMPI","t":15.4,"s":0.264},{"g":"L−Neo+H−GMPI","t":15.8,"s":0.231},{"g":"L−Neo+H−GMPI","t":18.2,"s":0.217},{"g":"L−Neo+H−GMPI","t":20.9,"s":0.19},{"g":"L−Neo+H−GMPI","t":24.3,"s":0.19},
{"g":"L−Neo+L−GMPI","t":0,"s":1},{"g":"L−Neo+L−GMPI","t":0.9,"s":0.99},{"g":"L−Neo+L−GMPI","t":1.6,"s":0.975},{"g":"L−Neo+L−GMPI","t":2,"s":0.93},{"g":"L−Neo+L−GMPI","t":2.4,"s":0.88},{"g":"L−Neo+L−GMPI","t":2.8,"s":0.81},{"g":"L−Neo+L−GMPI","t":3.1,"s":0.76},{"g":"L−Neo+L−GMPI","t":3.7,"s":0.715},{"g":"L−Neo+L−GMPI","t":4.1,"s":0.685},{"g":"L−Neo+L−GMPI","t":5.5,"s":0.655},{"g":"L−Neo+L−GMPI","t":6,"s":0.61},{"g":"L−Neo+L−GMPI","t":6.6,"s":0.585},{"g":"L−Neo+L−GMPI","t":7.2,"s":0.56},{"g":"L−Neo+L−GMPI","t":7.9,"s":0.53},{"g":"L−Neo+L−GMPI","t":8.3,"s":0.483},{"g":"L−Neo+L−GMPI","t":9.1,"s":0.457},{"g":"L−Neo+L−GMPI","t":9.7,"s":0.43},{"g":"L−Neo+L−GMPI","t":10.4,"s":0.395},{"g":"L−Neo+L−GMPI","t":10.8,"s":0.365},{"g":"L−Neo+L−GMPI","t":11.8,"s":0.347},{"g":"L−Neo+L−GMPI","t":13.3,"s":0.333},{"g":"L−Neo+L−GMPI","t":14.8,"s":0.318},{"g":"L−Neo+L−GMPI","t":16.3,"s":0.295},{"g":"L−Neo+L−GMPI","t":19.2,"s":0.277},{"g":"L−Neo+L−GMPI","t":21.1,"s":0.249},{"g":"L−Neo+L−GMPI","t":23.8,"s":0.249}
],
"gcens":[
{"g":"H−Neo+H−GMPI","t":20,"s":0.545},{"g":"H−Neo+H−GMPI","t":20.6,"s":0.545},{"g":"H−Neo+H−GMPI","t":21.2,"s":0.545},{"g":"H−Neo+H−GMPI","t":21.8,"s":0.545},
{"g":"H−Neo+L−GMPI","t":18.5,"s":0.582},{"g":"H−Neo+L−GMPI","t":19.5,"s":0.582},{"g":"H−Neo+L−GMPI","t":20.5,"s":0.582},{"g":"H−Neo+L−GMPI","t":21.5,"s":0.582},{"g":"H−Neo+L−GMPI","t":22.5,"s":0.582},
{"g":"L−Neo+H−GMPI","t":21.5,"s":0.19},{"g":"L−Neo+H−GMPI","t":22.2,"s":0.19},{"g":"L−Neo+H−GMPI","t":23,"s":0.19},{"g":"L−Neo+H−GMPI","t":23.8,"s":0.19},
{"g":"L−Neo+L−GMPI","t":21.6,"s":0.249},{"g":"L−Neo+L−GMPI","t":22.2,"s":0.249},{"g":"L−Neo+L−GMPI","t":23,"s":0.249},{"g":"L−Neo+L−GMPI","t":23.5,"s":0.249}
],
"b1v":[
{"g":"Low","y":0.82,"lo":1,"hi":1},{"g":"Low","y":0.75,"lo":0.98,"hi":1.02},{"g":"Low","y":0.7,"lo":0.993,"hi":1.007},{"g":"Low","y":0.65,"lo":0.98,"hi":1.02},{"g":"Low","y":0.6,"lo":0.997,"hi":1.003},{"g":"Low","y":0.2,"lo":0.997,"hi":1.003},{"g":"Low","y":0.05,"lo":0.993,"hi":1.007},{"g":"Low","y":0,"lo":0.984,"hi":1.016},{"g":"Low","y":-0.05,"lo":0.918,"hi":1.082},{"g":"Low","y":-0.1,"lo":0.82,"hi":1.18},{"g":"Low","y":-0.15,"lo":0.64,"hi":1.36},{"g":"Low","y":-0.19,"lo":0.5,"hi":1.5},{"g":"Low","y":-0.23,"lo":0.607,"hi":1.393},{"g":"Low","y":-0.28,"lo":0.754,"hi":1.246},{"g":"Low","y":-0.33,"lo":0.869,"hi":1.131},{"g":"Low","y":-0.4,"lo":0.974,"hi":1.026},{"g":"Low","y":-0.48,"lo":1,"hi":1},
{"g":"High","y":0.97,"lo":2,"hi":2},{"g":"High","y":0.91,"lo":1.984,"hi":2.016},{"g":"High","y":0.85,"lo":1.993,"hi":2.007},{"g":"High","y":0.75,"lo":1.984,"hi":2.016},{"g":"High","y":0.7,"lo":1.997,"hi":2.003},{"g":"High","y":0.2,"lo":1.993,"hi":2.007},{"g":"High","y":0.05,"lo":1.98,"hi":2.02},{"g":"High","y":0,"lo":1.902,"hi":2.098},{"g":"High","y":-0.05,"lo":1.803,"hi":2.197},{"g":"High","y":-0.1,"lo":1.705,"hi":2.295},{"g":"High","y":-0.15,"lo":1.623,"hi":2.377},{"g":"High","y":-0.18,"lo":1.607,"hi":2.393},{"g":"High","y":-0.22,"lo":1.656,"hi":2.344},{"g":"High","y":-0.27,"lo":1.77,"hi":2.23},{"g":"High","y":-0.32,"lo":1.885,"hi":2.115},{"g":"High","y":-0.37,"lo":1.961,"hi":2.039},{"g":"High","y":-0.43,"lo":1.974,"hi":2.026},{"g":"High","y":-0.47,"lo":1.987,"hi":2.013},{"g":"High","y":-0.55,"lo":2,"hi":2}
],
"b2v":[
{"g":"Low","y":0.045,"lo":1,"hi":1},{"g":"Low","y":0.02,"lo":0.993,"hi":1.007},{"g":"Low","y":-0.02,"lo":0.967,"hi":1.033},{"g":"Low","y":-0.052,"lo":0.902,"hi":1.098},{"g":"Low","y":-0.088,"lo":0.803,"hi":1.197},{"g":"Low","y":-0.124,"lo":0.689,"hi":1.311},{"g":"Low","y":-0.15,"lo":0.607,"hi":1.393},{"g":"Low","y":-0.175,"lo":0.525,"hi":1.475},{"g":"Low","y":-0.193,"lo":0.492,"hi":1.508},{"g":"Low","y":-0.218,"lo":0.541,"hi":1.459},{"g":"Low","y":-0.247,"lo":0.672,"hi":1.328},{"g":"Low","y":-0.29,"lo":0.803,"hi":1.197},{"g":"Low","y":-0.334,"lo":0.902,"hi":1.098},{"g":"Low","y":-0.37,"lo":0.954,"hi":1.046},{"g":"Low","y":-0.4,"lo":0.974,"hi":1.026},{"g":"Low","y":-0.427,"lo":0.99,"hi":1.01},{"g":"Low","y":-0.467,"lo":1,"hi":1},
{"g":"High","y":0.127,"lo":2,"hi":2},{"g":"High","y":0.078,"lo":1.99,"hi":2.01},{"g":"High","y":0.038,"lo":1.98,"hi":2.02},{"g":"High","y":0.006,"lo":1.948,"hi":2.052},{"g":"High","y":-0.03,"lo":1.862,"hi":2.138},{"g":"High","y":-0.066,"lo":1.764,"hi":2.236},{"g":"High","y":-0.103,"lo":1.672,"hi":2.328},{"g":"High","y":-0.131,"lo":1.63,"hi":2.37},{"g":"High","y":-0.153,"lo":1.613,"hi":2.387},{"g":"High","y":-0.175,"lo":1.623,"hi":2.377},{"g":"High","y":-0.218,"lo":1.705,"hi":2.295},{"g":"High","y":-0.261,"lo":1.803,"hi":2.197},{"g":"High","y":-0.305,"lo":1.885,"hi":2.115},{"g":"High","y":-0.355,"lo":1.941,"hi":2.059},{"g":"High","y":-0.4,"lo":1.97,"hi":2.03},{"g":"High","y":-0.435,"lo":1.98,"hi":2.02},{"g":"High","y":-0.485,"lo":1.993,"hi":2.007},{"g":"High","y":-0.536,"lo":2,"hi":2}
],
"b3v":[
{"g":"Low","y":1.46,"lo":1,"hi":1},{"g":"Low","y":1.37,"lo":0.98,"hi":1.02},{"g":"Low","y":1.26,"lo":0.918,"hi":1.082},{"g":"Low","y":1.18,"lo":0.836,"hi":1.164},{"g":"Low","y":1.095,"lo":0.721,"hi":1.279},{"g":"Low","y":1.03,"lo":0.672,"hi":1.328},{"g":"Low","y":0.99,"lo":0.659,"hi":1.341},{"g":"Low","y":0.926,"lo":0.689,"hi":1.311},{"g":"Low","y":0.84,"lo":0.77,"hi":1.23},{"g":"Low","y":0.737,"lo":0.895,"hi":1.105},{"g":"Low","y":0.59,"lo":0.98,"hi":1.02},{"g":"Low","y":0.42,"lo":0.984,"hi":1.016},{"g":"Low","y":0.337,"lo":0.951,"hi":1.049},{"g":"Low","y":0.25,"lo":0.885,"hi":1.115},{"g":"Low","y":0.168,"lo":0.738,"hi":1.262},{"g":"Low","y":0.084,"lo":0.689,"hi":1.311},{"g":"Low","y":0.01,"lo":0.672,"hi":1.328},{"g":"Low","y":-0.063,"lo":0.705,"hi":1.295},{"g":"Low","y":-0.147,"lo":0.787,"hi":1.213},{"g":"Low","y":-0.23,"lo":0.885,"hi":1.115},{"g":"Low","y":-0.316,"lo":0.951,"hi":1.049},{"g":"Low","y":-0.4,"lo":0.987,"hi":1.013},{"g":"Low","y":-0.474,"lo":1,"hi":1},
{"g":"High","y":1.43,"lo":2,"hi":2},{"g":"High","y":1.326,"lo":1.984,"hi":2.016},{"g":"High","y":1.22,"lo":1.918,"hi":2.082},{"g":"High","y":1.137,"lo":1.862,"hi":2.138},{"g":"High","y":1.05,"lo":1.803,"hi":2.197},{"g":"High","y":0.98,"lo":1.784,"hi":2.216},{"g":"High","y":0.905,"lo":1.82,"hi":2.18},{"g":"High","y":0.82,"lo":1.885,"hi":2.115},{"g":"High","y":0.716,"lo":1.951,"hi":2.049},{"g":"High","y":0.59,"lo":1.98,"hi":2.02},{"g":"High","y":0.42,"lo":1.967,"hi":2.033},{"g":"High","y":0.295,"lo":1.869,"hi":2.131},{"g":"High","y":0.21,"lo":1.721,"hi":2.279},{"g":"High","y":0.126,"lo":1.59,"hi":2.41},{"g":"High","y":0.063,"lo":1.525,"hi":2.475},{"g":"High","y":0,"lo":1.498,"hi":2.502},{"g":"High","y":-0.063,"lo":1.541,"hi":2.459},{"g":"High","y":-0.147,"lo":1.672,"hi":2.328},{"g":"High","y":-0.23,"lo":1.82,"hi":2.18},{"g":"High","y":-0.305,"lo":1.934,"hi":2.066},{"g":"High","y":-0.38,"lo":1.984,"hi":2.016},{"g":"High","y":-0.44,"lo":2,"hi":2}
],
"b4v":[
{"g":"Low","y":1.4,"lo":1,"hi":1},{"g":"Low","y":1.284,"lo":0.974,"hi":1.026},{"g":"Low","y":1.19,"lo":0.955,"hi":1.045},{"g":"Low","y":1.08,"lo":0.92,"hi":1.08},{"g":"Low","y":0.99,"lo":0.888,"hi":1.112},{"g":"Low","y":0.92,"lo":0.776,"hi":1.224},{"g":"Low","y":0.83,"lo":0.633,"hi":1.367},{"g":"Low","y":0.74,"lo":0.537,"hi":1.463},{"g":"Low","y":0.636,"lo":0.498,"hi":1.502},{"g":"Low","y":0.534,"lo":0.601,"hi":1.399},{"g":"Low","y":0.443,"lo":0.744,"hi":1.256},{"g":"Low","y":0.375,"lo":0.84,"hi":1.16},{"g":"Low","y":0.284,"lo":0.888,"hi":1.112},{"g":"Low","y":0.193,"lo":0.936,"hi":1.064},{"g":"Low","y":0.1,"lo":0.974,"hi":1.026},{"g":"Low","y":0.01,"lo":0.99,"hi":1.01},{"g":"Low","y":-0.136,"lo":1,"hi":1},
{"g":"High","y":1.886,"lo":2,"hi":2},{"g":"High","y":1.716,"lo":1.994,"hi":2.006},{"g":"High","y":1.6,"lo":1.968,"hi":2.032},{"g":"High","y":1.49,"lo":1.952,"hi":2.048},{"g":"High","y":1.35,"lo":1.949,"hi":2.051},{"g":"High","y":1.26,"lo":1.923,"hi":2.077},{"g":"High","y":1.148,"lo":1.872,"hi":2.128},{"g":"High","y":1.01,"lo":1.808,"hi":2.192},{"g":"High","y":0.9,"lo":1.728,"hi":2.272},{"g":"High","y":0.784,"lo":1.633,"hi":2.367},{"g":"High","y":0.705,"lo":1.61,"hi":2.39},{"g":"High","y":0.625,"lo":1.649,"hi":2.351},{"g":"High","y":0.51,"lo":1.76,"hi":2.24},{"g":"High","y":0.4,"lo":1.84,"hi":2.16},{"g":"High","y":0.284,"lo":1.879,"hi":2.121},{"g":"High","y":0.17,"lo":1.93,"hi":2.07},{"g":"High","y":0.057,"lo":1.962,"hi":2.038},{"g":"High","y":-0.057,"lo":1.987,"hi":2.013},{"g":"High","y":-0.2,"lo":2,"hi":2}
],
"c1v":[
{"g":"Low","y":10.86,"lo":1,"hi":1},{"g":"Low","y":10.53,"lo":0.994,"hi":1.006},{"g":"Low","y":10.23,"lo":0.981,"hi":1.019},{"g":"Low","y":9.94,"lo":0.984,"hi":1.016},{"g":"Low","y":9.57,"lo":0.99,"hi":1.01},{"g":"Low","y":9.36,"lo":0.92,"hi":1.08},{"g":"Low","y":9.14,"lo":0.871,"hi":1.129},{"g":"Low","y":8.99,"lo":0.865,"hi":1.135},{"g":"Low","y":8.77,"lo":0.904,"hi":1.096},{"g":"Low","y":8.59,"lo":0.91,"hi":1.09},{"g":"Low","y":8.44,"lo":0.807,"hi":1.193},{"g":"Low","y":8.26,"lo":0.63,"hi":1.37},{"g":"Low","y":8.11,"lo":0.534,"hi":1.466},{"g":"Low","y":8,"lo":0.502,"hi":1.498},{"g":"Low","y":7.85,"lo":0.598,"hi":1.402},{"g":"Low","y":7.67,"lo":0.775,"hi":1.225},{"g":"Low","y":7.49,"lo":0.871,"hi":1.129},{"g":"Low","y":7.34,"lo":0.839,"hi":1.161},{"g":"Low","y":7.16,"lo":0.727,"hi":1.273},{"g":"Low","y":6.97,"lo":0.695,"hi":1.305},{"g":"Low","y":6.79,"lo":0.775,"hi":1.225},{"g":"Low","y":6.57,"lo":0.887,"hi":1.113},{"g":"Low","y":6.39,"lo":0.929,"hi":1.071},{"g":"Low","y":6.13,"lo":0.904,"hi":1.096},{"g":"Low","y":5.91,"lo":0.887,"hi":1.113},{"g":"Low","y":5.69,"lo":0.936,"hi":1.064},{"g":"Low","y":5.47,"lo":0.974,"hi":1.026},{"g":"Low","y":5.14,"lo":1,"hi":1},
{"g":"High","y":10.82,"lo":2,"hi":2},{"g":"High","y":10.38,"lo":1.994,"hi":2.006},{"g":"High","y":10.01,"lo":1.99,"hi":2.01},{"g":"High","y":9.72,"lo":1.99,"hi":2.01},{"g":"High","y":9.5,"lo":1.968,"hi":2.032},{"g":"High","y":9.28,"lo":1.904,"hi":2.096},{"g":"High","y":9.06,"lo":1.855,"hi":2.145},{"g":"High","y":8.92,"lo":1.862,"hi":2.138},{"g":"High","y":8.7,"lo":1.91,"hi":2.09},{"g":"High","y":8.48,"lo":1.904,"hi":2.096},{"g":"High","y":8.29,"lo":1.743,"hi":2.257},{"g":"High","y":8.11,"lo":1.662,"hi":2.338},{"g":"High","y":8,"lo":1.637,"hi":2.363},{"g":"High","y":7.85,"lo":1.711,"hi":2.289},{"g":"High","y":7.63,"lo":1.855,"hi":2.145},{"g":"High","y":7.45,"lo":1.887,"hi":2.113},{"g":"High","y":7.27,"lo":1.727,"hi":2.273},{"g":"High","y":7.08,"lo":1.582,"hi":2.418},{"g":"High","y":6.97,"lo":1.543,"hi":2.457},{"g":"High","y":6.83,"lo":1.614,"hi":2.386},{"g":"High","y":6.64,"lo":1.775,"hi":2.225},{"g":"High","y":6.42,"lo":1.904,"hi":2.096},{"g":"High","y":6.24,"lo":1.91,"hi":2.09},{"g":"High","y":5.99,"lo":1.878,"hi":2.122},{"g":"High","y":5.77,"lo":1.904,"hi":2.096},{"g":"High","y":5.47,"lo":1.974,"hi":2.026},{"g":"High","y":5.18,"lo":1.987,"hi":2.013},{"g":"High","y":5,"lo":1.981,"hi":2.019},{"g":"High","y":4.74,"lo":1.99,"hi":2.01},{"g":"High","y":4.19,"lo":2,"hi":2}
],
"c2v":[
{"g":"Low","y":10.87,"lo":1,"hi":1},{"g":"Low","y":10.18,"lo":0.987,"hi":1.013},{"g":"Low","y":9.78,"lo":0.991,"hi":1.009},{"g":"Low","y":9.37,"lo":0.962,"hi":1.038},{"g":"Low","y":9.02,"lo":0.937,"hi":1.063},{"g":"Low","y":8.66,"lo":0.962,"hi":1.038},{"g":"Low","y":8.26,"lo":0.911,"hi":1.089},{"g":"Low","y":7.95,"lo":0.921,"hi":1.079},{"g":"Low","y":7.65,"lo":0.889,"hi":1.111},{"g":"Low","y":7.4,"lo":0.684,"hi":1.316},{"g":"Low","y":7.14,"lo":0.541,"hi":1.459},{"g":"Low","y":6.99,"lo":0.5,"hi":1.5},{"g":"Low","y":6.79,"lo":0.62,"hi":1.38},{"g":"Low","y":6.54,"lo":0.81,"hi":1.19},{"g":"Low","y":6.33,"lo":0.778,"hi":1.222},{"g":"Low","y":6.13,"lo":0.589,"hi":1.411},{"g":"Low","y":6,"lo":0.541,"hi":1.459},{"g":"Low","y":5.83,"lo":0.62,"hi":1.38},{"g":"Low","y":5.57,"lo":0.842,"hi":1.158},{"g":"Low","y":5.32,"lo":0.858,"hi":1.142},{"g":"Low","y":5.02,"lo":0.772,"hi":1.228},{"g":"Low","y":4.77,"lo":0.842,"hi":1.158},{"g":"Low","y":4.51,"lo":0.921,"hi":1.079},{"g":"Low","y":4.21,"lo":0.873,"hi":1.127},{"g":"Low","y":3.96,"lo":0.867,"hi":1.133},{"g":"Low","y":3.65,"lo":0.921,"hi":1.079},{"g":"Low","y":3.4,"lo":0.975,"hi":1.025},{"g":"Low","y":3.15,"lo":1,"hi":1},
{"g":"High","y":10.18,"lo":2,"hi":2},{"g":"High","y":9.67,"lo":1.991,"hi":2.009},{"g":"High","y":9.07,"lo":1.962,"hi":2.038},{"g":"High","y":8.46,"lo":1.905,"hi":2.095},{"g":"High","y":7.95,"lo":1.826,"hi":2.174},{"g":"High","y":7.55,"lo":1.747,"hi":2.253},{"g":"High","y":7.14,"lo":1.699,"hi":2.301},{"g":"High","y":6.74,"lo":1.731,"hi":2.269},{"g":"High","y":6.44,"lo":1.722,"hi":2.278},{"g":"High","y":6.03,"lo":1.674,"hi":2.326},{"g":"High","y":5.63,"lo":1.731,"hi":2.269},{"g":"High","y":5.22,"lo":1.778,"hi":2.222},{"g":"High","y":4.71,"lo":1.826,"hi":2.174},{"g":"High","y":4.11,"lo":1.905,"hi":2.095},{"g":"High","y":3.5,"lo":1.968,"hi":2.032},{"g":"High","y":3,"lo":1.984,"hi":2.016},{"g":"High","y":2.39,"lo":1.994,"hi":2.006},{"g":"High","y":1.68,"lo":2,"hi":2}
],
"c3v":[
{"g":"Low","y":10.83,"lo":1,"hi":1},{"g":"Low","y":10.42,"lo":0.994,"hi":1.006},{"g":"Low","y":10.07,"lo":0.981,"hi":1.019},{"g":"Low","y":9.55,"lo":0.981,"hi":1.019},{"g":"Low","y":9.12,"lo":0.955,"hi":1.045},{"g":"Low","y":8.86,"lo":0.974,"hi":1.026},{"g":"Low","y":8.51,"lo":0.92,"hi":1.08},{"g":"Low","y":8.3,"lo":0.807,"hi":1.193},{"g":"Low","y":8.04,"lo":0.749,"hi":1.251},{"g":"Low","y":7.82,"lo":0.839,"hi":1.161},{"g":"Low","y":7.6,"lo":0.887,"hi":1.113},{"g":"Low","y":7.39,"lo":0.775,"hi":1.225},{"g":"Low","y":7.17,"lo":0.598,"hi":1.402},{"g":"Low","y":7,"lo":0.502,"hi":1.498},{"g":"Low","y":6.83,"lo":0.63,"hi":1.37},{"g":"Low","y":6.61,"lo":0.839,"hi":1.161},{"g":"Low","y":6.44,"lo":0.904,"hi":1.096},{"g":"Low","y":6.26,"lo":0.855,"hi":1.145},{"g":"Low","y":6,"lo":0.839,"hi":1.161},{"g":"Low","y":5.75,"lo":0.904,"hi":1.096},{"g":"Low","y":5.4,"lo":0.955,"hi":1.045},{"g":"Low","y":5.01,"lo":0.923,"hi":1.077},{"g":"Low","y":4.71,"lo":0.955,"hi":1.045},{"g":"Low","y":4.45,"lo":0.984,"hi":1.016},{"g":"Low","y":4.19,"lo":1,"hi":1},
{"g":"High","y":10.07,"lo":2,"hi":2},{"g":"High","y":9.47,"lo":1.99,"hi":2.01},{"g":"High","y":9.03,"lo":1.952,"hi":2.048},{"g":"High","y":8.69,"lo":1.897,"hi":2.103},{"g":"High","y":8.34,"lo":1.823,"hi":2.177},{"g":"High","y":7.99,"lo":1.801,"hi":2.199},{"g":"High","y":7.65,"lo":1.823,"hi":2.177},{"g":"High","y":7.3,"lo":1.727,"hi":2.273},{"g":"High","y":7,"lo":1.669,"hi":2.331},{"g":"High","y":6.7,"lo":1.749,"hi":2.251},{"g":"High","y":6.44,"lo":1.823,"hi":2.177},{"g":"High","y":6.05,"lo":1.781,"hi":2.219},{"g":"High","y":5.75,"lo":1.823,"hi":2.177},{"g":"High","y":5.4,"lo":1.936,"hi":2.064},{"g":"High","y":4.97,"lo":1.952,"hi":2.048},{"g":"High","y":4.53,"lo":1.974,"hi":2.026},{"g":"High","y":4.1,"lo":1.987,"hi":2.013},{"g":"High","y":3.58,"lo":1.994,"hi":2.006},{"g":"High","y":2.98,"lo":2,"hi":2}
],
"c4v":[
{"g":"Low","y":9.81,"lo":1,"hi":1},{"g":"Low","y":9.36,"lo":0.993,"hi":1.007},{"g":"Low","y":8.98,"lo":0.974,"hi":1.026},{"g":"Low","y":8.6,"lo":0.983,"hi":1.017},{"g":"Low","y":7.99,"lo":0.96,"hi":1.04},{"g":"Low","y":7.57,"lo":0.95,"hi":1.05},{"g":"Low","y":7.28,"lo":0.868,"hi":1.132},{"g":"Low","y":7,"lo":0.812,"hi":1.188},{"g":"Low","y":6.72,"lo":0.901,"hi":1.099},{"g":"Low","y":6.43,"lo":0.884,"hi":1.116},{"g":"Low","y":6.25,"lo":0.703,"hi":1.297},{"g":"Low","y":6.01,"lo":0.498,"hi":1.502},{"g":"Low","y":5.77,"lo":0.719,"hi":1.281},{"g":"Low","y":5.54,"lo":0.884,"hi":1.116},{"g":"Low","y":5.3,"lo":0.785,"hi":1.215},{"g":"Low","y":5.02,"lo":0.686,"hi":1.314},{"g":"Low","y":4.74,"lo":0.785,"hi":1.215},{"g":"Low","y":4.45,"lo":0.908,"hi":1.092},{"g":"Low","y":4.03,"lo":0.891,"hi":1.109},{"g":"Low","y":3.6,"lo":0.95,"hi":1.05},{"g":"Low","y":3.32,"lo":0.934,"hi":1.066},{"g":"Low","y":3.04,"lo":0.901,"hi":1.099},{"g":"Low","y":2.66,"lo":0.96,"hi":1.04},{"g":"Low","y":2.19,"lo":1,"hi":1},
{"g":"High","y":9.78,"lo":2,"hi":2},{"g":"High","y":8.98,"lo":1.99,"hi":2.01},{"g":"High","y":8.42,"lo":1.96,"hi":2.04},{"g":"High","y":7.99,"lo":1.934,"hi":2.066},{"g":"High","y":7.57,"lo":1.95,"hi":2.05},{"g":"High","y":7.28,"lo":1.818,"hi":2.182},{"g":"High","y":7,"lo":1.762,"hi":2.238},{"g":"High","y":6.72,"lo":1.884,"hi":2.116},{"g":"High","y":6.43,"lo":1.868,"hi":2.132},{"g":"High","y":6.01,"lo":1.677,"hi":2.323},{"g":"High","y":5.68,"lo":1.884,"hi":2.116},{"g":"High","y":5.4,"lo":1.785,"hi":2.215},{"g":"High","y":5,"lo":1.561,"hi":2.439},{"g":"High","y":4.64,"lo":1.785,"hi":2.215},{"g":"High","y":4.36,"lo":1.901,"hi":2.099},{"g":"High","y":4.03,"lo":1.818,"hi":2.182},{"g":"High","y":3.6,"lo":1.917,"hi":2.083},{"g":"High","y":3.32,"lo":1.96,"hi":2.04},{"g":"High","y":2.99,"lo":1.917,"hi":2.083},{"g":"High","y":2.57,"lo":1.974,"hi":2.026},{"g":"High","y":2,"lo":1.993,"hi":2.007},{"g":"High","y":1.25,"lo":2,"hi":2}
]
},
"spacing":-6,
"resolve":{"scale":{"color":"independent"},"legend":{"color":"independent"}},
"vconcat":[
{"spacing":20,"resolve":{"scale":{"color":"independent"},"legend":{"color":"independent"}},"vconcat":[
{"resolve":{"scale":{"color":"independent"},"legend":{"color":"independent"}},
 "hconcat":[
 {"title":{"text":"(A)","anchor":"start","frame":"group","fontSize":34,"fontWeight":"bold","color":"#231815","dx":-55,"offset":26},
  "view":{"fill":"#bebebe","stroke":null},
  "width":528.5,"height":1014,
  "data":{"name":"a"},
  "layer":[
  {"mark":{"type":"rect"},
   "encoding":{
    "x":{"field":"c","type":"nominal","sort":null,"scale":{"paddingInner":0.094,"paddingOuter":0.106},"axis":{"title":null,"domain":false,"ticks":false,"labelAngle":-45,"labelAlign":"right","labelBaseline":"middle","labelFontSize":31,"labelPadding":10,"labelOffset":17}},
    "y":{"field":"g","type":"nominal","sort":null,"scale":{"paddingInner":0.31,"paddingOuter":0.25},"axis":{"title":null,"orient":"right","domain":false,"ticks":false,"labelFontSize":28,"labelPadding":5}},
    "color":{"field":"r","type":"quantitative","scale":{"domain":[-0.44,0,0.48],"range":["#69b2be","#ffffff","#e87d82"],"interpolate":"rgb"},
     "legend":{"orient":"none","legendX":664,"legendY":397,"title":"Correlation","titleFontSize":25,"labelFontSize":25,"gradientLength":118,"gradientThickness":26,"values":[0.25,0,-0.25],"format":".2f","titlePadding":6,"labelOffset":3}}
   }},
  {"mark":{"type":"text","fontSize":30,"baseline":"alphabetic","dy":17,"color":"black"},
   "encoding":{"x":{"field":"c","type":"nominal","sort":null},"y":{"field":"g","type":"nominal","sort":null},"text":{"field":"s"}}}
  ]},
 {"spacing":-30,
  "resolve":{"scale":{"color":"independent"},"legend":{"color":"independent"}},
  "vconcat":[
  {"bounds":"flush","spacing":0,"resolve":{"scale":{"color":"independent"},"legend":{"color":"independent"}},"hconcat":[
   {"width":663.5,"height":459,
    "layer":[
    {"data":{"name":"egrid"},"mark":{"type":"rule","stroke":"#ebebeb","strokeWidth":6},
     "encoding":{
      "x":{"datum":0.421,"type":"quantitative","scale":{"domain":[0.421,2.587],"range":[102.5,375.5],"nice":false,"zero":false},
       "axis":{"values":[1,2],"labelExpr":"datum.value==1?'Low':'High'","title":"GMPI","titleFontSize":31,"titleX":241.5,"titleY":52,"labelFontSize":31,"domain":false,"labelPadding":2}},
      "x2":{"datum":2.587},
      "y":{"field":"v","type":"quantitative","scale":{"domain":[-4.7,104.6],"range":[459,-27.5],"nice":false,"zero":false},
       "axis":{"values":[0,25,50,75,100],"title":"Percent weight","offset":-102.5,"titleX":-69,"titleY":213,"domain":false,"labelFontSize":29}}}},
    {"data":{"values":[{"x":1},{"x":2}]},"mark":{"type":"rule","stroke":"#ebebeb","strokeWidth":6},
     "encoding":{"x":{"field":"x","type":"quantitative"},"y":{"datum":-4.7,"type":"quantitative"},"y2":{"datum":104.6}}},
    {"data":{"name":"dbars"},"mark":{"type":"rect"},
     "encoding":{"x":{"field":"lo","type":"quantitative"},"x2":{"field":"hi"},"y":{"field":"y0","type":"quantitative"},"y2":{"field":"y1"},
      "color":{"field":"r","type":"nominal","scale":{"domain":["CR/PR","SD/PD"],"range":["#f28080","#7cc4cc"]},
       "legend":{"orient":"none","legendX":404.5,"legendY":157,"title":"Response","symbolType":"square","symbolSize":676,"symbolStrokeWidth":0,"rowPadding":-9,"labelOffset":3,"titlePadding":10}}}},
    {"data":{"values":[{"a":0.421,"b":2.587,"c":-4.7,"d":104.6}]},"mark":{"type":"rect","fillOpacity":0,"stroke":"#333333","strokeWidth":4},
     "encoding":{"x":{"field":"a","type":"quantitative"},"x2":{"field":"b"},"y":{"field":"c","type":"quantitative"},"y2":{"field":"d"}}},
    {"data":{"values":[{"x":1,"y":88.3,"t":"26%"},{"x":1,"y":38.4,"t":"74%"},{"x":2.06,"y":92,"t":"19%"},{"x":2.06,"y":41.9,"t":"81%"}]},"mark":{"type":"text","fontSize":32,"baseline":"middle","color":"black"},
     "encoding":{"x":{"field":"x","type":"quantitative"},"y":{"field":"y","type":"quantitative"},"text":{"field":"t"}}},
    {"data":{"values":[{"x":-0.556,"y":108.8,"t":"(D)"}]},"mark":{"type":"text","fontSize":34,"fontWeight":"bold","align":"left","baseline":"middle"},
     "encoding":{"x":{"field":"x","type":"quantitative"},"y":{"field":"y","type":"quantitative"},"text":{"field":"t"}}},
    {"data":{"values":[{"x":-1.746,"y":23.6,"t":"***"},{"x":-1.278,"y":23.6,"t":"< 0.001"},{"x":-1.746,"y":17.5,"t":"**"},{"x":-1.349,"y":17.5,"t":"< 0.01"},{"x":-1.69,"y":12.4,"t":"*"},{"x":-1.317,"y":12.4,"t":"< 0.05"}]},"mark":{"type":"text","fontSize":25,"align":"left","baseline":"middle"},
     "encoding":{"x":{"field":"x","type":"quantitative"},"y":{"field":"y","type":"quantitative"},"text":{"field":"t"}}},
    {"data":{"values":[{"x":-1.46,"y":23.6,"t":"P"},{"x":-1.532,"y":17.5,"t":"P"},{"x":-1.492,"y":12.4,"t":"P"}]},"mark":{"type":"text","fontSize":25,"fontStyle":"italic","align":"left","baseline":"middle"},
     "encoding":{"x":{"field":"x","type":"quantitative"},"y":{"field":"y","type":"quantitative"},"text":{"field":"t"}}}
    ]},
   {"width":557,"height":445,
    "layer":[
    {"data":{"name":"ebox"},"mark":{"type":"rule","strokeWidth":5},
     "encoding":{
      "x":{"field":"x","type":"quantitative","scale":{"domain":[0.399,2.601],"range":[0,557],"nice":false,"zero":false},
       "axis":{"values":[1,2],"labelExpr":"datum.value==1?'CR/PR':'SD/PD'","title":null,"labelFontSize":31,"labelPadding":6}},
      "y":{"field":"wl","type":"quantitative","scale":{"domain":[0.0156,0.2184],"range":[445,38],"nice":false,"zero":false},
       "axis":{"values":[0.05,0.1,0.15,0.2],"format":".2f","title":"GMPI","titleFontSize":31,"titleX":-83,"titleY":251,"labelFontSize":29}},
      "y2":{"field":"wh"},
      "color":{"field":"r","type":"nominal","scale":{"domain":["CR/PR","SD/PD"],"range":["#f8766d","#00bfc4"]},
       "legend":{"orient":"none","legendX":58,"legendY":-24,"direction":"horizontal","title":"Response","titleOrient":"left","symbolType":"square","symbolSize":576,"symbolStrokeWidth":0,"labelOffset":2,"columnPadding":4,"titlePadding":6}}}},
    {"data":{"name":"ebox"},"mark":{"type":"rect","fillOpacity":0,"strokeWidth":6},
     "encoding":{"x":{"field":"xl","type":"quantitative"},"x2":{"field":"xr"},"y":{"field":"q1","type":"quantitative"},"y2":{"field":"q3"},"stroke":{"field":"r","type":"nominal","legend":null,"scale":{"domain":["CR/PR","SD/PD"],"range":["#f8766d","#00bfc4"]}}}},
    {"data":{"name":"ebox"},"mark":{"type":"rule","strokeWidth":6},
     "encoding":{"x":{"field":"xl","type":"quantitative"},"x2":{"field":"xr"},"y":{"field":"med","type":"quantitative"},"color":{"field":"r","type":"nominal"}}},
    {"data":{"name":"edots"},"mark":{"type":"circle","size":170,"opacity":1},
     "encoding":{"x":{"field":"j","type":"quantitative"},"y":{"field":"v","type":"quantitative"},"color":{"field":"r","type":"nominal"}}},
    {"data":{"values":[{"i":0,"x":1,"y":0.204},{"i":1,"x":1,"y":0.2097},{"i":2,"x":2,"y":0.2097},{"i":3,"x":2,"y":0.204}]},"mark":{"type":"line","color":"black","strokeWidth":4},
     "encoding":{"x":{"field":"x","type":"quantitative"},"y":{"field":"y","type":"quantitative"},"order":{"field":"i"}}},
    {"data":{"values":[{"x":1.5,"y":0.2204,"t":"0.036"}]},"mark":{"type":"text","fontSize":31,"baseline":"middle"},
     "encoding":{"x":{"field":"x","type":"quantitative"},"y":{"field":"y","type":"quantitative"},"text":{"field":"t"}}},
    {"data":{"values":[{"x":0.071,"y":0.2603,"t":"(E)"}]},"mark":{"type":"text","fontSize":34,"fontWeight":"bold","align":"left","baseline":"middle"},
     "encoding":{"x":{"field":"x","type":"quantitative"},"y":{"field":"y","type":"quantitative"},"text":{"field":"t"}}}
    ]}
  ]},
  {"bounds":"flush","spacing":0,"resolve":{"scale":{"color":"independent"},"legend":{"color":"independent"}},"hconcat":[
   {"width":670.5,"height":483.5,
    "layer":[
    {"data":{"name":"fkm"},"mark":{"type":"line","interpolate":"step-after","strokeWidth":7},
     "encoding":{
      "x":{"field":"t","type":"quantitative","scale":{"domain":[-1.233,26.19],"range":[0,589.5],"nice":false,"zero":false},
       "axis":{"values":[0,1,2,3,4,5,6,7,8,9,10,11,12,13,14,15,16,17,18,19,20,21,22,23,24,25],"format":"d","labelOverlap":false,"labelFontSize":19,"labelPadding":0,"title":"Time(years)","titleFontSize":33,"titleX":302.5,"titleY":39,"tickSize":4,"tickWidth":2}},
      "y":{"field":"s","type":"quantitative","scale":{"domain":[-0.058,1.043],"range":[483.5,29.5],"nice":false,"zero":false},
       "axis":{"values":[0,0.25,0.5,0.75,1],"format":".2f","labelFontSize":29,"title":"Survival probability","titleX":-81.5,"titleY":245.5}},
      "color":{"field":"g","type":"nominal","scale":{"domain":["H−Neo","L−Neo"],"range":["#f08083","#7cc4cb"]},
       "legend":{"orient":"none","legendX":365,"legendY":100,"title":null,"symbolType":"stroke","symbolSize":380,"symbolStrokeWidth":8,"rowPadding":-13,"labelOffset":0}}}},
    {"data":{"name":"fcens"},"mark":{"type":"tick","orient":"vertical","size":12,"thickness":1.5},
     "encoding":{"x":{"field":"t","type":"quantitative"},"y":{"field":"s","type":"quantitative"},"color":{"field":"g","type":"nominal"}}},
    {"data":{"values":[{"a":0,"b":8,"c":0.5,"d":0.5},{"a":8,"b":8,"c":0.5,"d":0}]},"mark":{"type":"rule","color":"black","strokeWidth":6,"strokeDash":[15,16]},
     "encoding":{"x":{"field":"a","type":"quantitative"},"x2":{"field":"b"},"y":{"field":"c","type":"quantitative"},"y2":{"field":"d"}}},
    {"data":{"values":[{"x":0.45,"y":0.2,"t":"P"}]},"mark":{"type":"text","fontSize":32,"fontStyle":"italic","align":"left","baseline":"middle"},
     "encoding":{"x":{"field":"x","type":"quantitative"},"y":{"field":"y","type":"quantitative"},"text":{"field":"t"}}},
    {"data":{"values":[{"x":1.85,"y":0.2,"t":"< 0.001"}]},"mark":{"type":"text","fontSize":32,"align":"left","baseline":"middle"},
     "encoding":{"x":{"field":"x","type":"quantitative"},"y":{"field":"y","type":"quantitative"},"text":{"field":"t"}}},
    {"data":{"values":[{"x":-2.33,"y":1.203,"t":"(F)"}]},"mark":{"type":"text","fontSize":34,"fontWeight":"bold","align":"left","baseline":"middle"},
     "encoding":{"x":{"field":"x","type":"quantitative"},"y":{"field":"y","type":"quantitative"},"text":{"field":"t"}}}
    ]},
   {"width":560,"height":486,
    "layer":[
    {"data":{"name":"gkm"},"mark":{"type":"line","interpolate":"step-after","strokeWidth":7},
     "encoding":{
      "x":{"field":"t","type":"quantitative","scale":{"domain":[-1.1,26.27],"range":[0,560],"nice":false,"zero":false},
       "axis":{"values":[0,1,2,3,4,5,6,7,8,9,10,11,12,13,14,15,16,17,18,19,20,21,22,23,24,25],"format":"d","labelOverlap":false,"labelFontSize":19,"labelPadding":0,"title":"Time(years)","titleFontSize":33,"titleX":295,"titleY":37,"tickSize":4,"tickWidth":2}},
      "y":{"field":"s","type":"quantitative","scale":{"domain":[-0.052,1.0475],"range":[486,0],"nice":false,"zero":false},
       "axis":{"values":[0,0.25,0.5,0.75,1],"format":".2f","labelFontSize":29,"title":"Survival probability","titleX":-79,"titleY":226.5}},
      "color":{"field":"g","type":"nominal","scale":{"domain":["H−Neo+H−GMPI","H−Neo+L−GMPI","L−Neo+H−GMPI","L−Neo+L−GMPI"],"range":["#ee8284","#7cc5cb","#f5a27c","#679fcf"]},
       "legend":{"orient":"none","legendX":274,"legendY":32,"title":null,"symbolType":"stroke","symbolSize":200,"symbolStrokeWidth":8,"rowPadding":-13,"labelOffset":0,"labelLimit":400}}}},
    {"data":{"name":"gcens"},"mark":{"type":"tick","orient":"vertical","size":12,"thickness":1.5},
     "encoding":{"x":{"field":"t","type":"quantitative"},"y":{"field":"s","type":"quantitative"},"color":{"field":"g","type":"nominal"}}},
    {"data":{"values":[{"a":0,"b":8.15,"c":0.5,"d":0.5},{"a":7.56,"b":7.56,"c":0.5,"d":0},{"a":8.15,"b":8.15,"c":0.5,"d":0}]},"mark":{"type":"rule","color":"black","strokeWidth":6,"strokeDash":[15,16]},
     "encoding":{"x":{"field":"a","type":"quantitative"},"x2":{"field":"b"},"y":{"field":"c","type":"quantitative"},"y2":{"field":"d"}}},
    {"data":{"values":[{"x":0,"y":0.21,"t":"P"}]},"mark":{"type":"text","fontSize":32,"fontStyle":"italic","align":"left","baseline":"middle"},
     "encoding":{"x":{"field":"x","type":"quantitative"},"y":{"field":"y","type":"quantitative"},"text":{"field":"t"}}},
    {"data":{"values":[{"x":1.45,"y":0.21,"t":"< 0.001"}]},"mark":{"type":"text","fontSize":32,"align":"left","baseline":"middle"},
     "encoding":{"x":{"field":"x","type":"quantitative"},"y":{"field":"y","type":"quantitative"},"text":{"field":"t"}}},
    {"data":{"values":[{"x":-5.6,"y":1.13,"t":"(G)"}]},"mark":{"type":"text","fontSize":34,"fontWeight":"bold","align":"left","baseline":"middle"},
     "encoding":{"x":{"field":"x","type":"quantitative"},"y":{"field":"y","type":"quantitative"},"text":{"field":"t"}}}
    ]}
  ]}
 ]}
],"bounds":"flush","spacing":306},
{"bounds":"flush","spacing":0,"resolve":{"scale":{"color":"independent"},"legend":{"color":"independent"}},"hconcat":[
 {"width":530,"height":332,"layer":[
  {"data":{"name":"b1v"},"mark":{"type":"area","orient":"horizontal","interpolate":"monotone","stroke":"black","strokeWidth":4},
   "encoding":{"x":{"field":"lo","type":"quantitative","scale":{"domain":[0.401,2.599],"range":[12,467],"nice":false,"zero":false},"axis":{"values":[1,2],"labelExpr":"datum.value==1?'Low':'High'","title":null,"labelFontSize":31}},"x2":{"field":"hi"},
    "y":{"field":"y","type":"quantitative","scale":{"domain":[-0.611,1.062],"range":[332,0],"nice":false,"zero":false},"axis":{"values":[-0.5,0,0.5,1],"format":".1f","title":"TIDE","offset":-12,"titleX":-58,"titleY":147}},
    "color":{"field":"g","type":"nominal","scale":{"domain":["Low","High"],"range":["#7bbfc8","#e37b7b"]},"legend":{"orient":"none","legendX":87,"legendY":-46,"direction":"horizontal","title":"GMPI","titleOrient":"left","symbolType":"square","symbolSize":400,"symbolStrokeColor":"black","symbolStrokeWidth":4,"labelOffset":2,"columnPadding":1,"titlePadding":3}}}},
  {"data":{"values":[{"x":1,"a":-0.4,"b":-0.03},{"x":2,"a":-0.43,"b":0}]},"mark":{"type":"rule","color":"black","strokeWidth":3},"encoding":{"x":{"field":"x","type":"quantitative"},"y":{"field":"a","type":"quantitative"},"y2":{"field":"b"}}},
  {"data":{"values":[{"a":0.897,"b":1.103,"c":-0.27,"d":-0.15},{"a":1.897,"b":2.103,"c":-0.24,"d":-0.11}]},"mark":{"type":"rect","fill":"white","stroke":"black","strokeWidth":3.5},"encoding":{"x":{"field":"a","type":"quantitative"},"x2":{"field":"b"},"y":{"field":"c","type":"quantitative"},"y2":{"field":"d"}}},
  {"data":{"values":[{"a":0.897,"b":1.103,"m":-0.2},{"a":1.897,"b":2.103,"m":-0.17}]},"mark":{"type":"rule","color":"black","strokeWidth":3.5},"encoding":{"x":{"field":"a","type":"quantitative"},"x2":{"field":"b"},"y":{"field":"m","type":"quantitative"}}},
  {"data":{"values":[{"x":1,"y":0.75},{"x":1,"y":0.65},{"x":2,"y":0.91},{"x":2,"y":0.75},{"x":2,"y":-0.45}]},"mark":{"type":"circle","size":70,"color":"black","opacity":1},"encoding":{"x":{"field":"x","type":"quantitative"},"y":{"field":"y","type":"quantitative"}}},
  {"data":{"values":[{"i":0,"x":1,"y":0.923},{"i":1,"x":1,"y":0.97},{"i":2,"x":2,"y":0.97}]},"mark":{"type":"line","color":"black","strokeWidth":4},"encoding":{"x":{"field":"x","type":"quantitative"},"y":{"field":"y","type":"quantitative"},"order":{"field":"i"}}},
  {"data":{"values":[{"x":1.135,"y":1.057,"t":"P"}]},"mark":{"type":"text","fontSize":31,"fontStyle":"italic","align":"left","baseline":"middle"},"encoding":{"x":{"field":"x","type":"quantitative"},"y":{"field":"y","type":"quantitative"},"text":{"field":"t"}}},
  {"data":{"values":[{"x":1.27,"y":1.057,"t":"= 0.0002"}]},"mark":{"type":"text","fontSize":31,"align":"left","baseline":"middle"},"encoding":{"x":{"field":"x","type":"quantitative"},"y":{"field":"y","type":"quantitative"},"text":{"field":"t"}}},
  {"data":{"values":[{"x":0.072,"y":1.324,"t":"(B)"}]},"mark":{"type":"text","fontSize":34,"fontWeight":"bold","align":"left","baseline":"middle"},"encoding":{"x":{"field":"x","type":"quantitative"},"y":{"field":"y","type":"quantitative"},"text":{"field":"t"}}}
 ]},
 {"width":531,"height":340,"layer":[
  {"data":{"name":"b2v"},"mark":{"type":"area","orient":"horizontal","interpolate":"monotone","stroke":"black","strokeWidth":4},
   "encoding":{"x":{"field":"lo","type":"quantitative","scale":{"domain":[0.396,2.599],"range":[0,456],"nice":false,"zero":false},"axis":{"values":[1,2],"labelExpr":"datum.value==1?'Low':'High'","title":null,"labelFontSize":31}},"x2":{"field":"hi"},
    "y":{"field":"y","type":"quantitative","scale":{"domain":[-0.568,0.1575],"range":[340,5],"nice":false,"zero":false},"axis":{"values":[-0.4,-0.2,0],"format":".1f","title":"Dysfunction","titleX":-77,"titleY":157}},
    "color":{"field":"g","type":"nominal","scale":{"domain":["Low","High"],"range":["#7bbfc8","#e37b7b"]},"legend":{"orient":"none","legendX":76,"legendY":-39,"direction":"horizontal","title":"GMPI","titleOrient":"left","symbolType":"square","symbolSize":400,"symbolStrokeColor":"black","symbolStrokeWidth":4,"labelOffset":2,"columnPadding":1,"titlePadding":3}}}},
  {"data":{"values":[{"x":1,"a":-0.38,"b":-0.04},{"x":2,"a":-0.405,"b":0.04}]},"mark":{"type":"rule","color":"black","strokeWidth":3},"encoding":{"x":{"field":"x","type":"quantitative"},"y":{"field":"a","type":"quantitative"},"y2":{"field":"b"}}},
  {"data":{"values":[{"a":0.897,"b":1.103,"c":-0.25,"d":-0.16},{"a":1.897,"b":2.103,"c":-0.231,"d":-0.11}]},"mark":{"type":"rect","fill":"white","stroke":"black","strokeWidth":3.5},"encoding":{"x":{"field":"a","type":"quantitative"},"x2":{"field":"b"},"y":{"field":"c","type":"quantitative"},"y2":{"field":"d"}}},
  {"data":{"values":[{"a":0.897,"b":1.103,"m":-0.2},{"a":1.897,"b":2.103,"m":-0.169}]},"mark":{"type":"rule","color":"black","strokeWidth":3.5},"encoding":{"x":{"field":"a","type":"quantitative"},"x2":{"field":"b"},"y":{"field":"m","type":"quantitative"}}},
  {"data":{"values":[{"x":1,"y":-0.02},{"x":1,"y":-0.39},{"x":2,"y":-0.43}]},"mark":{"type":"circle","size":70,"color":"black","opacity":1},"encoding":{"x":{"field":"x","type":"quantitative"},"y":{"field":"y","type":"quantitative"}}},
  {"data":{"values":[{"i":0,"x":1,"y":0.045},{"i":1,"x":1,"y":0.064},{"i":2,"x":2,"y":0.064},{"i":3,"x":2,"y":0.05}]},"mark":{"type":"line","color":"black","strokeWidth":4},"encoding":{"x":{"field":"x","type":"quantitative"},"y":{"field":"y","type":"quantitative"},"order":{"field":"i"}}},
  {"data":{"values":[{"x":1.075,"y":0.0996,"t":"P"}]},"mark":{"type":"text","fontSize":31,"fontStyle":"italic","align":"left","baseline":"middle"},"encoding":{"x":{"field":"x","type":"quantitative"},"y":{"field":"y","type":"quantitative"},"text":{"field":"t"}}},
  {"data":{"values":[{"x":1.216,"y":0.0996,"t":"= 0.00026"}]},"mark":{"type":"text","fontSize":31,"align":"left","baseline":"middle"},"encoding":{"x":{"field":"x","type":"quantitative"},"y":{"field":"y","type":"quantitative"},"text":{"field":"t"}}}
 ]},
 {"width":539,"height":340,"layer":[
  {"data":{"name":"b3v"},"mark":{"type":"area","orient":"horizontal","interpolate":"monotone","stroke":"black","strokeWidth":4},
   "encoding":{"x":{"field":"lo","type":"quantitative","scale":{"domain":[0.401,2.604],"range":[0,456],"nice":false,"zero":false},"axis":{"values":[1,2],"labelExpr":"datum.value==1?'Low':'High'","title":null,"labelFontSize":31}},"x2":{"field":"hi"},
    "y":{"field":"y","type":"quantitative","scale":{"domain":[-0.558,1.558],"range":[340,5],"nice":false,"zero":false},"axis":{"values":[-0.5,0,0.5,1,1.5],"format":".1f","title":"MSI","titleX":-63,"titleY":159}},
    "color":{"field":"g","type":"nominal","scale":{"domain":["Low","High"],"range":["#7bbfc8","#e37b7b"]},"legend":{"orient":"none","legendX":71,"legendY":-39,"direction":"horizontal","title":"GMPI","titleOrient":"left","symbolType":"square","symbolSize":400,"symbolStrokeColor":"black","symbolStrokeWidth":4,"labelOffset":2,"columnPadding":1,"titlePadding":3}}}},
  {"data":{"values":[{"a":0.897,"b":1.103,"c":0,"d":1},{"a":1.897,"b":2.103,"c":0,"d":0.94}]},"mark":{"type":"rect","fill":"white","stroke":"black","strokeWidth":3.5},"encoding":{"x":{"field":"a","type":"quantitative"},"x2":{"field":"b"},"y":{"field":"c","type":"quantitative"},"y2":{"field":"d"}}},
  {"data":{"values":[{"a":0.897,"b":1.103,"m":0.52},{"a":1.897,"b":2.103,"m":0}]},"mark":{"type":"rule","color":"black","strokeWidth":3.5},"encoding":{"x":{"field":"a","type":"quantitative"},"x2":{"field":"b"},"y":{"field":"m","type":"quantitative"}}},
  {"data":{"values":[{"i":0,"x":1,"y":1},{"i":1,"x":1,"y":1.046},{"i":2,"x":2,"y":1.046},{"i":3,"x":2,"y":0.95}]},"mark":{"type":"line","color":"black","strokeWidth":4},"encoding":{"x":{"field":"x","type":"quantitative"},"y":{"field":"y","type":"quantitative"},"order":{"field":"i"}}},
  {"data":{"values":[{"x":1.197,"y":1.274,"t":"P"}]},"mark":{"type":"text","fontSize":31,"fontStyle":"italic","align":"left","baseline":"middle"},"encoding":{"x":{"field":"x","type":"quantitative"},"y":{"field":"y","type":"quantitative"},"text":{"field":"t"}}},
  {"data":{"values":[{"x":1.338,"y":1.274,"t":"= 4e−05"}]},"mark":{"type":"text","fontSize":31,"align":"left","baseline":"middle"},"encoding":{"x":{"field":"x","type":"quantitative"},"y":{"field":"y","type":"quantitative"},"text":{"field":"t"}}}
 ]},
 {"width":463,"height":344,"layer":[
  {"data":{"name":"b4v"},"mark":{"type":"area","orient":"horizontal","interpolate":"monotone","stroke":"black","strokeWidth":4},
   "encoding":{"x":{"field":"lo","type":"quantitative","scale":{"domain":[0.406,2.59],"range":[0,463],"nice":false,"zero":false},"axis":{"values":[1,2],"labelExpr":"datum.value==1?'Low':'High'","title":null,"labelFontSize":31}},"x2":{"field":"hi"},
    "y":{"field":"y","type":"quantitative","scale":{"domain":[-0.3,1.977],"range":[344,10],"nice":false,"zero":false},"axis":{"values":[0,0.5,1,1.5],"format":".1f","title":"Exclusion","titleX":-76,"titleY":171}},
    "color":{"field":"g","type":"nominal","scale":{"domain":["Low","High"],"range":["#7bbfc8","#e37b7b"]},"legend":{"orient":"none","legendX":80,"legendY":-37,"direction":"horizontal","title":"GMPI","titleOrient":"left","symbolType":"square","symbolSize":400,"symbolStrokeColor":"black","symbolStrokeWidth":4,"labelOffset":2,"columnPadding":1,"titlePadding":3}}}},
  {"data":{"values":[{"x":1,"a":0.11,"b":1.1},{"x":2,"a":0.045,"b":1.455}]},"mark":{"type":"rule","color":"black","strokeWidth":3},"encoding":{"x":{"field":"x","type":"quantitative"},"y":{"field":"a","type":"quantitative"},"y2":{"field":"b"}}},
  {"data":{"values":[{"a":0.897,"b":1.103,"c":0.505,"d":0.76},{"a":1.897,"b":2.103,"c":0.557,"d":0.916}]},"mark":{"type":"rect","fill":"white","stroke":"black","strokeWidth":3.5},"encoding":{"x":{"field":"a","type":"quantitative"},"x2":{"field":"b"},"y":{"field":"c","type":"quantitative"},"y2":{"field":"d"}}},
  {"data":{"values":[{"a":0.897,"b":1.103,"m":0.636},{"a":1.897,"b":2.103,"m":0.727}]},"mark":{"type":"rule","color":"black","strokeWidth":3.5},"encoding":{"x":{"field":"a","type":"quantitative"},"x2":{"field":"b"},"y":{"field":"m","type":"quantitative"}}},
  {"data":{"values":[{"x":1,"y":1.2},{"x":1,"y":0.11},{"x":2,"y":1.46}]},"mark":{"type":"circle","size":70,"color":"black","opacity":1},"encoding":{"x":{"field":"x","type":"quantitative"},"y":{"field":"y","type":"quantitative"}}},
  {"data":{"values":[{"i":0,"x":1,"y":1.648},{"i":1,"x":1,"y":1.705},{"i":2,"x":2,"y":1.705},{"i":3,"x":2,"y":1.69}]},"mark":{"type":"line","color":"black","strokeWidth":4},"encoding":{"x":{"field":"x","type":"quantitative"},"y":{"field":"y","type":"quantitative"},"order":{"field":"i"}}},
  {"data":{"values":[{"x":1.08,"y":1.83,"t":"P"}]},"mark":{"type":"text","fontSize":31,"fontStyle":"italic","align":"left","baseline":"middle"},"encoding":{"x":{"field":"x","type":"quantitative"},"y":{"field":"y","type":"quantitative"},"text":{"field":"t"}}},
  {"data":{"values":[{"x":1.211,"y":1.83,"t":"= 0.00055"}]},"mark":{"type":"text","fontSize":31,"align":"left","baseline":"middle"},"encoding":{"x":{"field":"x","type":"quantitative"},"y":{"field":"y","type":"quantitative"},"text":{"field":"t"}}}
 ]}
]}
]},
{"bounds":"flush","spacing":0,"resolve":{"scale":{"color":"independent"},"legend":{"color":"independent"}},"hconcat":[
 {"width":535,"height":330,"layer":[
  {"data":{"name":"c1v"},"mark":{"type":"area","orient":"horizontal","interpolate":"monotone","stroke":"black","strokeWidth":4},
   "encoding":{"x":{"field":"lo","type":"quantitative","scale":{"domain":[0.398,2.569],"range":[12,470],"nice":false,"zero":false},"axis":{"values":[1,2],"labelExpr":"datum.value==1?'Low':'High'","title":null,"labelFontSize":31}},"x2":{"field":"hi"},
    "y":{"field":"y","type":"quantitative","scale":{"domain":[3.897,11.15],"range":[330,0],"nice":false,"zero":false},"axis":{"values":[4,6,8,10],"title":"IPS_CTLA-4_Neg_PD-1_Neg","offset":-12,"titleX":-51,"titleY":155}},
    "color":{"field":"g","type":"nominal","scale":{"domain":["Low","High"],"range":["#7bbfc8","#e37b7b"]},"legend":{"orient":"none","legendX":90,"legendY":-44,"direction":"horizontal","title":"GMPI","titleOrient":"left","symbolType":"square","symbolSize":400,"symbolStrokeColor":"black","symbolStrokeWidth":4,"labelOffset":2,"columnPadding":1,"titlePadding":3}}}},
  {"data":{"values":[{"x":1,"a":6,"b":9},{"x":2,"a":6,"b":9}]},"mark":{"type":"rule","color":"black","strokeWidth":3},"encoding":{"x":{"field":"x","type":"quantitative"},"y":{"field":"a","type":"quantitative"},"y2":{"field":"b"}}},
  {"data":{"values":[{"a":0.897,"b":1.103,"c":7,"d":8},{"a":1.897,"b":2.103,"c":7,"d":8}]},"mark":{"type":"rect","fill":"white","stroke":"black","strokeWidth":3.5},"encoding":{"x":{"field":"a","type":"quantitative"},"x2":{"field":"b"},"y":{"field":"c","type":"quantitative"},"y2":{"field":"d"}}},
  {"data":{"values":[{"x":1,"y":10},{"x":2,"y":10},{"x":2,"y":5}]},"mark":{"type":"circle","size":70,"color":"black","opacity":1},"encoding":{"x":{"field":"x","type":"quantitative"},"y":{"field":"y","type":"quantitative"}}},
  {"data":{"values":[{"i":0,"x":1,"y":10.2},{"i":1,"x":1,"y":10.26},{"i":2,"x":2,"y":10.26},{"i":3,"x":2,"y":10.2}]},"mark":{"type":"line","color":"black","strokeWidth":4},"encoding":{"x":{"field":"x","type":"quantitative"},"y":{"field":"y","type":"quantitative"},"order":{"field":"i"}}},
  {"data":{"values":[{"x":1.225,"y":10.67,"t":"P"}]},"mark":{"type":"text","fontSize":31,"fontStyle":"italic","align":"left","baseline":"middle"},"encoding":{"x":{"field":"x","type":"quantitative"},"y":{"field":"y","type":"quantitative"},"text":{"field":"t"}}},
  {"data":{"values":[{"x":1.363,"y":10.67,"t":"= 0.049"}]},"mark":{"type":"text","fontSize":31,"align":"left","baseline":"middle"},"encoding":{"x":{"field":"x","type":"quantitative"},"y":{"field":"y","type":"quantitative"},"text":{"field":"t"}}},
  {"data":{"values":[{"x":0.076,"y":13.24,"t":"(C)"}]},"mark":{"type":"text","fontSize":34,"fontWeight":"bold","align":"left","baseline":"middle"},"encoding":{"x":{"field":"x","type":"quantitative"},"y":{"field":"y","type":"quantitative"},"text":{"field":"t"}}}
 ]},
 {"width":538,"height":332,"layer":[
  {"data":{"name":"c2v"},"mark":{"type":"area","orient":"horizontal","interpolate":"monotone","stroke":"black","strokeWidth":4},
   "encoding":{"x":{"field":"lo","type":"quantitative","scale":{"domain":[0.397,2.593],"range":[0,470],"nice":false,"zero":false},"axis":{"values":[1,2],"labelExpr":"datum.value==1?'Low':'High'","title":null,"labelFontSize":31}},"x2":{"field":"hi"},
    "y":{"field":"y","type":"quantitative","scale":{"domain":[1.263,11.28],"range":[332,2],"nice":false,"zero":false},"axis":{"values":[3,6,9],"title":"IPS_CTLA-4_Neg_PD-1_Pos","titleX":-44,"titleY":152}},
    "color":{"field":"g","type":"nominal","scale":{"domain":["Low","High"],"range":["#7bbfc8","#e37b7b"]},"legend":{"orient":"none","legendX":83,"legendY":-41,"direction":"horizontal","title":"GMPI","titleOrient":"left","symbolType":"square","symbolSize":400,"symbolStrokeColor":"black","symbolStrokeWidth":4,"labelOffset":2,"columnPadding":1,"titlePadding":3}}}},
  {"data":{"values":[{"x":1,"a":5,"b":8},{"x":2,"a":3,"b":9}]},"mark":{"type":"rule","color":"black","strokeWidth":3},"encoding":{"x":{"field":"x","type":"quantitative"},"y":{"field":"a","type":"quantitative"},"y2":{"field":"b"}}},
  {"data":{"values":[{"a":0.897,"b":1.103,"c":6,"d":7},{"a":1.897,"b":2.103,"c":5,"d":7}]},"mark":{"type":"rect","fill":"white","stroke":"black","strokeWidth":3.5},"encoding":{"x":{"field":"a","type":"quantitative"},"x2":{"field":"b"},"y":{"field":"c","type":"quantitative"},"y2":{"field":"d"}}},
  {"data":{"values":[{"a":1.897,"b":2.103,"m":6}]},"mark":{"type":"rule","color":"black","strokeWidth":3.5},"encoding":{"x":{"field":"a","type":"quantitative"},"x2":{"field":"b"},"y":{"field":"m","type":"quantitative"}}},
  {"data":{"values":[{"x":1,"y":10},{"x":1,"y":9},{"x":1,"y":4}]},"mark":{"type":"circle","size":70,"color":"black","opacity":1},"encoding":{"x":{"field":"x","type":"quantitative"},"y":{"field":"y","type":"quantitative"}}},
  {"data":{"values":[{"i":0,"x":1,"y":10.3},{"i":1,"x":1,"y":10.4},{"i":2,"x":2,"y":10.4},{"i":3,"x":2,"y":10.3}]},"mark":{"type":"line","color":"black","strokeWidth":4},"encoding":{"x":{"field":"x","type":"quantitative"},"y":{"field":"y","type":"quantitative"},"order":{"field":"i"}}},
  {"data":{"values":[{"x":1.259,"y":10.94,"t":"P"}]},"mark":{"type":"text","fontSize":31,"fontStyle":"italic","align":"left","baseline":"middle"},"encoding":{"x":{"field":"x","type":"quantitative"},"y":{"field":"y","type":"quantitative"},"text":{"field":"t"}}},
  {"data":{"values":[{"x":1.396,"y":10.94,"t":"= 0.2"}]},"mark":{"type":"text","fontSize":31,"align":"left","baseline":"middle"},"encoding":{"x":{"field":"x","type":"quantitative"},"y":{"field":"y","type":"quantitative"},"text":{"field":"t"}}}
 ]},
 {"width":541,"height":336,"layer":[
  {"data":{"name":"c3v"},"mark":{"type":"area","orient":"horizontal","interpolate":"monotone","stroke":"black","strokeWidth":4},
   "encoding":{"x":{"field":"lo","type":"quantitative","scale":{"domain":[0.403,2.588],"range":[0,461],"nice":false,"zero":false},"axis":{"values":[1,2],"labelExpr":"datum.value==1?'Low':'High'","title":null,"labelFontSize":31}},"x2":{"field":"hi"},
    "y":{"field":"y","type":"quantitative","scale":{"domain":[2.606,11.197],"range":[336,5],"nice":false,"zero":false},"axis":{"values":[3,5,7,9,11],"title":"IPS_CTLA-4_Pos_PD-1_Pos","titleX":-49,"titleY":154}},
    "color":{"field":"g","type":"nominal","scale":{"domain":["Low","High"],"range":["#7bbfc8","#e37b7b"]},"legend":{"orient":"none","legendX":78,"legendY":-37,"direction":"horizontal","title":"GMPI","titleOrient":"left","symbolType":"square","symbolSize":400,"symbolStrokeColor":"black","symbolStrokeWidth":4,"labelOffset":2,"columnPadding":1,"titlePadding":3}}}},
  {"data":{"values":[{"x":1,"a":6,"b":9},{"x":2,"a":4,"b":9}]},"mark":{"type":"rule","color":"black","strokeWidth":3},"encoding":{"x":{"field":"x","type":"quantitative"},"y":{"field":"a","type":"quantitative"},"y2":{"field":"b"}}},
  {"data":{"values":[{"a":0.897,"b":1.103,"c":7,"d":8},{"a":1.897,"b":2.103,"c":6,"d":8}]},"mark":{"type":"rect","fill":"white","stroke":"black","strokeWidth":3.5},"encoding":{"x":{"field":"a","type":"quantitative"},"x2":{"field":"b"},"y":{"field":"c","type":"quantitative"},"y2":{"field":"d"}}},
  {"data":{"values":[{"a":1.897,"b":2.103,"m":7}]},"mark":{"type":"rule","color":"black","strokeWidth":3.5},"encoding":{"x":{"field":"a","type":"quantitative"},"x2":{"field":"b"},"y":{"field":"m","type":"quantitative"}}},
  {"data":{"values":[{"x":1,"y":10},{"x":1,"y":5}]},"mark":{"type":"circle","size":70,"color":"black","opacity":1},"encoding":{"x":{"field":"x","type":"quantitative"},"y":{"field":"y","type":"quantitative"}}},
  {"data":{"values":[{"i":0,"x":1,"y":10.25},{"i":1,"x":1,"y":10.3},{"i":2,"x":2,"y":10.3},{"i":3,"x":2,"y":10.07}]},"mark":{"type":"line","color":"black","strokeWidth":4},"encoding":{"x":{"field":"x","type":"quantitative"},"y":{"field":"y","type":"quantitative"},"order":{"field":"i"}}},
  {"data":{"values":[{"x":1.26,"y":10.76,"t":"P"}]},"mark":{"type":"text","fontSize":31,"fontStyle":"italic","align":"left","baseline":"middle"},"encoding":{"x":{"field":"x","type":"quantitative"},"y":{"field":"y","type":"quantitative"},"text":{"field":"t"}}},
  {"data":{"values":[{"x":1.399,"y":10.76,"t":"= 0.14"}]},"mark":{"type":"text","fontSize":31,"align":"left","baseline":"middle"},"encoding":{"x":{"field":"x","type":"quantitative"},"y":{"field":"y","type":"quantitative"},"text":{"field":"t"}}}
 ]},
 {"width":453,"height":336,"layer":[
  {"data":{"name":"c4v"},"mark":{"type":"area","orient":"horizontal","interpolate":"monotone","stroke":"black","strokeWidth":4},
   "encoding":{"x":{"field":"lo","type":"quantitative","scale":{"domain":[0.395,2.605],"range":[0,453],"nice":false,"zero":false},"axis":{"values":[1,2],"labelExpr":"datum.value==1?'Low':'High'","title":null,"labelFontSize":31}},"x2":{"field":"hi"},
    "y":{"field":"y","type":"quantitative","scale":{"domain":[0.839,10.208],"range":[336,5],"nice":false,"zero":false},"axis":{"values":[2.5,5,7.5,10],"format":".1f","title":"IPS_CTLA-4_Pos_PD-1_Pos","titleX":-66,"titleY":157}},
    "color":{"field":"g","type":"nominal","scale":{"domain":["Low","High"],"range":["#7bbfc8","#e37b7b"]},"legend":{"orient":"none","legendX":71,"legendY":-37,"direction":"horizontal","title":"GMPI","titleOrient":"left","symbolType":"square","symbolSize":400,"symbolStrokeColor":"black","symbolStrokeWidth":4,"labelOffset":2,"columnPadding":1,"titlePadding":3}}}},
  {"data":{"values":[{"x":1,"a":4,"b":7},{"x":2,"a":4,"b":7}]},"mark":{"type":"rule","color":"black","strokeWidth":3},"encoding":{"x":{"field":"x","type":"quantitative"},"y":{"field":"a","type":"quantitative"},"y2":{"field":"b"}}},
  {"data":{"values":[{"a":0.897,"b":1.103,"c":5,"d":6},{"a":1.897,"b":2.103,"c":5,"d":6}]},"mark":{"type":"rect","fill":"white","stroke":"black","strokeWidth":3.5},"encoding":{"x":{"field":"a","type":"quantitative"},"x2":{"field":"b"},"y":{"field":"c","type":"quantitative"},"y2":{"field":"d"}}},
  {"data":{"values":[{"x":1,"y":9},{"x":1,"y":8},{"x":1,"y":3},{"x":2,"y":8},{"x":2,"y":3}]},"mark":{"type":"circle","size":70,"color":"black","opacity":1},"encoding":{"x":{"field":"x","type":"quantitative"},"y":{"field":"y","type":"quantitative"}}},
  {"data":{"values":[{"i":0,"x":1,"y":9.3},{"i":1,"x":1,"y":9.34},{"i":2,"x":2,"y":9.34},{"i":3,"x":2,"y":9.3}]},"mark":{"type":"line","color":"black","strokeWidth":4},"encoding":{"x":{"field":"x","type":"quantitative"},"y":{"field":"y","type":"quantitative"},"order":{"field":"i"}}},
  {"data":{"values":[{"x":1.205,"y":9.83,"t":"P"}]},"mark":{"type":"text","fontSize":31,"fontStyle":"italic","align":"left","baseline":"middle"},"encoding":{"x":{"field":"x","type":"quantitative"},"y":{"field":"y","type":"quantitative"},"text":{"field":"t"}}},
  {"data":{"values":[{"x":1.347,"y":9.83,"t":"= 0.32"}]},"mark":{"type":"text","fontSize":31,"align":"left","baseline":"middle"},"encoding":{"x":{"field":"x","type":"quantitative"},"y":{"field":"y","type":"quantitative"},"text":{"field":"t"}}}
 ]}
]}
]
}
